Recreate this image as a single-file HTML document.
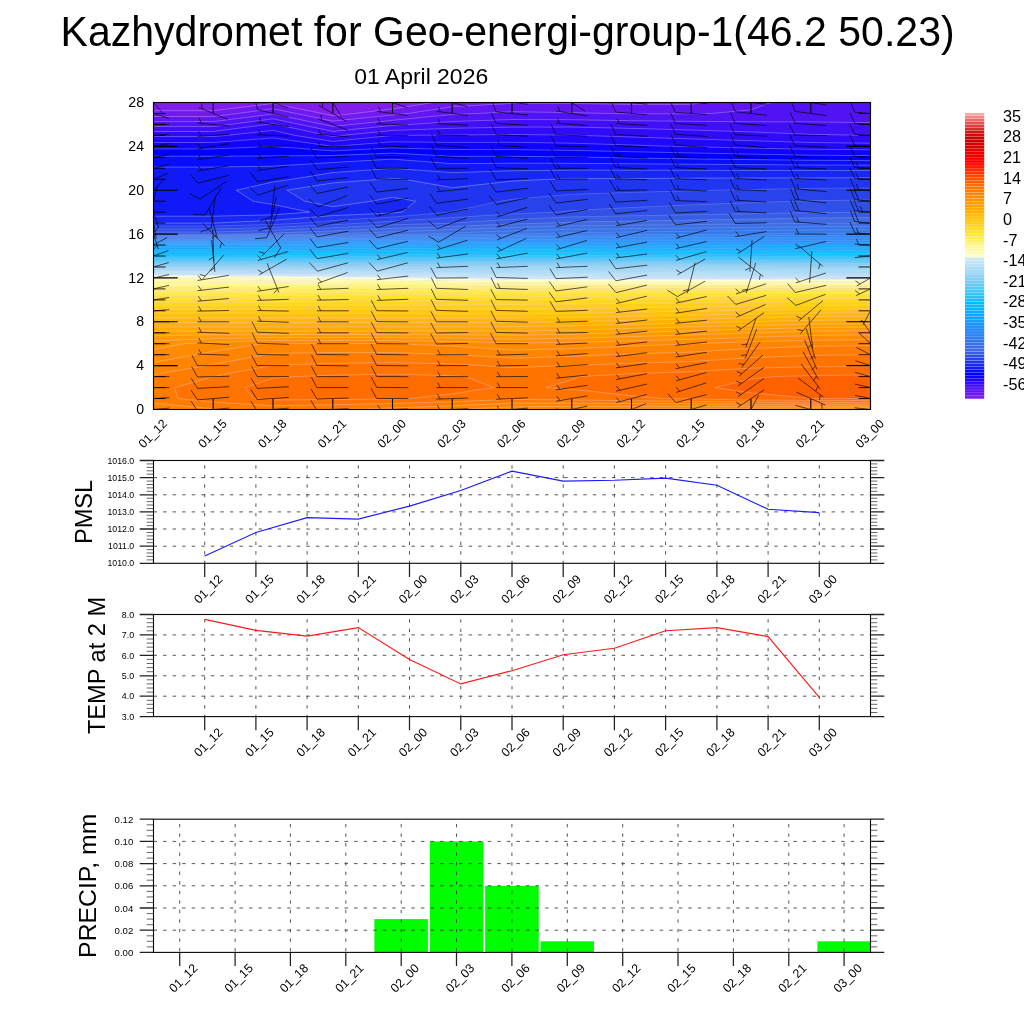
<!DOCTYPE html>
<html lang="en"><head><meta charset="utf-8"><title>Kazhydromet for Geo-energi-group-1(46.2 50.23)</title>
<style>html,body{margin:0;padding:0;background:#fff}body{width:1024px;height:1024px;overflow:hidden}svg{display:block}text{font-family:"Liberation Sans", sans-serif;fill:#000}</style></head><body>
<svg width="1024" height="1024" viewBox="0 0 1024 1024">
<rect width="1024" height="1024" fill="#fff"/>
<text transform="translate(507.6 45.6) scale(0.95 1)" font-size="43.2" text-anchor="middle">Kazhydromet for Geo-energi-group-1(46.2 50.23)</text>
<text x="421.2" y="84.4" font-size="22.95" text-anchor="middle">01 April 2026</text>
<defs><clipPath id="mc"><rect x="153.5" y="102.5" width="717" height="307"/></clipPath></defs>
<g clip-path="url(#mc)">
<rect x="152.5" y="101.5" width="719" height="309" fill="#811eee"/>
<g stroke-width="0.6" stroke-linejoin="round">
<path d="M322.4 113.5L332.8 115.7L354.5 113.5L392.5 108.9L433.1 102.5L392.5 102.5L332.8 102.5L273 102.5L213.2 102.5L153.5 102.5L153.5 110.7L213.2 110.7L273 103.5Z" fill="#811eee" stroke="#811eee" fill-rule="evenodd"/>
<path d="M153.5 113.5L153.5 116.5L213.2 116.5L237.2 113.5L273 108.8L296.4 113.5L332.8 121.1L392.5 115L408 113.5L452.2 106.7L512 103.4L571.8 103.4L631.5 104.4L691.2 104.4L703.2 102.5L691.2 102.5L631.5 102.5L571.8 102.5L512 102.5L452.2 102.5L433.1 102.5L392.5 108.9L354.5 113.5L332.8 115.7L322.4 113.5L273 103.5L213.2 110.7L153.5 110.7Z" fill="#711af0" stroke="#711af0" fill-rule="evenodd"/>
<path d="M323.4 124.4L332.8 126.4L352.7 124.4L392.5 120.3L452.2 114.5L476.2 113.5L512 111.7L571.8 112.6L611.6 113.5L631.5 113.8L691.2 113.8L711.2 113.5L751 109.8L770.9 102.5L751 102.5L703.2 102.5L691.2 104.4L631.5 104.4L571.8 103.4L512 103.4L452.2 106.7L408 113.5L392.5 115L332.8 121.1L296.4 113.5L273 108.8L237.2 113.5L213.2 116.5L153.5 116.5L153.5 121.6L213.2 121.6L273 114Z" fill="#6116f2" stroke="#6116f2" fill-rule="evenodd"/>
<path d="M153.5 124.4L153.5 126.6L213.2 126.6L230.1 124.4L273 118.8L299.9 124.4L332.8 131.4L392.5 125.4L411.7 124.4L452.2 121.5L512 119.5L571.8 119.7L631.5 120.7L691.2 121.3L751 121.8L810.8 121.9L870.5 122.6L870.5 113.5L870.5 102.5L810.8 102.5L770.9 102.5L751 109.8L711.2 113.5L691.2 113.8L631.5 113.8L611.6 113.5L571.8 112.6L512 111.7L476.2 113.5L452.2 114.5L392.5 120.3L352.7 124.4L332.8 126.4L323.4 124.4L273 114L213.2 121.6L153.5 121.6Z" fill="#5113f4" stroke="#5113f4" fill-rule="evenodd"/>
<path d="M326.5 135.4L332.8 136.4L342.7 135.4L392.5 130.4L452.2 128.3L512 127.1L571.8 127L631.5 128.4L691.2 130L751 131.9L810.8 134.3L870.5 135.4L870.5 135.4L870.5 135.4L870.5 124.4L870.5 122.6L810.8 121.9L751 121.8L691.2 121.3L631.5 120.7L571.8 119.7L512 119.5L452.2 121.5L411.7 124.4L392.5 125.4L332.8 131.4L299.9 124.4L273 118.8L230.1 124.4L213.2 126.6L153.5 126.6L153.5 131.5L213.2 131.5L267.4 124.4L273 123.7L276.5 124.4Z" fill="#400ff6" stroke="#400ff6" fill-rule="evenodd"/>
<path d="M153.5 135.4L153.5 136.6L213.2 136.6L226.5 135.4L273 130.4L295 135.4L332.8 141.4L392.5 135.4L392.5 135.4L452.2 135L512 134.5L571.8 135.1L580.1 135.4L631.5 137L691.2 138.9L751 140.7L810.8 142.5L870.5 143.2L870.5 135.4L870.5 135.4L810.8 134.3L751 131.9L691.2 130L631.5 128.4L571.8 127L512 127.1L452.2 128.3L392.5 130.4L342.7 135.4L332.8 136.4L326.5 135.4L276.5 124.4L273 123.7L267.4 124.4L213.2 131.5L153.5 131.5Z" fill="#300bf9" stroke="#300bf9" fill-rule="evenodd"/>
<path d="M332.8 146.4L332.8 146.4L332.8 146.4L392.5 141.8L452.2 142.4L512 142.3L571.8 143.2L631.5 145L675 146.4L691.2 146.7L751 148.1L810.8 149.3L870.5 149.8L870.5 146.4L870.5 143.2L810.8 142.5L751 140.7L691.2 138.9L631.5 137L580.1 135.4L571.8 135.1L512 134.5L452.2 135L392.5 135.4L392.5 135.4L332.8 141.4L295 135.4L273 130.4L226.5 135.4L213.2 136.6L153.5 136.6L153.5 142.5L213.2 142.5L273 137.9Z" fill="#2008fb" stroke="#2008fb" fill-rule="evenodd"/>
<path d="M153.5 146.4L153.5 148.9L213.2 148.9L273 146.4L332.8 150.9L392.5 147.9L452.2 149.5L512 149.6L571.8 150.4L631.5 151.7L691.2 152.9L751 154.1L810.8 155.2L870.5 155.6L870.5 149.8L810.8 149.3L751 148.1L691.2 146.7L675 146.4L631.5 145L571.8 143.2L512 142.3L452.2 142.4L392.5 141.8L332.8 146.4L332.8 146.4L332.8 146.4L273 137.9L213.2 142.5L153.5 142.5Z" fill="#1004fd" stroke="#1004fd" fill-rule="evenodd"/>
<path d="M593.5 157.3L631.5 158L691.2 158.9L751 159.6L810.8 160.3L870.5 160.5L870.5 157.3L870.5 155.6L810.8 155.2L751 154.1L691.2 152.9L631.5 151.7L571.8 150.4L512 149.6L452.2 149.5L392.5 147.9L332.8 150.9L273 146.4L213.2 148.9L153.5 148.9L153.5 156.2L213.2 156.2L273 155.9L332.8 155.5L392.5 153.1L452.2 156.3L512 156.3L571.8 156.9Z" fill="#0000ff" stroke="#0000ff" fill-rule="evenodd"/>
<path d="M153.5 157.3L153.5 167.1L213.2 167.1L273 166.2L332.8 162.5L392.5 159.1L452.2 163.7L512 163.2L571.8 163.3L631.5 163.8L691.2 164.2L751 164.6L810.7 165L870.5 165.1L870.5 160.5L810.8 160.3L751 159.6L691.2 158.9L631.5 158L593.5 157.3L571.8 156.9L512 156.3L452.2 156.3L392.5 153.1L332.8 155.5L273 155.9L213.2 156.2L153.5 156.2Z" fill="#080dfb" stroke="#080dfb" fill-rule="evenodd"/>
<path d="M153.5 212.1L153.5 216.2L213.2 216.2L273 214.8L309.5 212.1L273 204.5L253.1 201.2L236.3 190.2L273 182L291.8 179.3L332.8 172.6L392.5 168.3L452.2 172.6L512 170.8L571.8 170.1L631.5 170.2L691.2 170.3L751 170.4L810.8 170.4L870.5 170.5L870.5 168.3L870.5 165.1L810.8 165L751 164.6L691.2 164.2L631.5 163.8L571.8 163.3L512 163.2L452.2 163.7L392.5 159.1L332.8 162.5L273 166.2L213.2 167.1L153.5 167.1L153.5 168.3L153.5 179.3L153.5 190.2L153.5 201.2Z" fill="#101af8" stroke="#101af8" fill-rule="evenodd"/>
<path d="M153.5 223.1L153.5 223.1L213.2 223.1L213.2 223.1L273 220.3L332.8 215.6L392.5 213L402.3 212.1L415.7 201.2L392.5 197.3L371.5 201.2L332.8 206.7L304.9 201.2L286.8 190.2L332.8 182.9L382.5 179.2L392.5 178.3L404.4 179.3L452.2 187.7L512 181.1L548.1 179.3L571.8 178.7L631.5 178.5L691.2 178.2L751 178L810.8 177.9L870.5 177.8L870.5 170.5L810.8 170.4L751 170.4L691.2 170.3L631.5 170.2L571.8 170.1L512 170.8L452.2 172.6L392.5 168.3L332.8 172.6L291.8 179.3L273 182L236.3 190.2L253.1 201.2L273 204.5L309.5 212.1L273 214.8L213.2 216.2L153.5 216.2Z" fill="#1828f4" stroke="#1828f4" fill-rule="evenodd"/>
<path d="M153.5 223.1L153.5 226.1L213.2 226.1L273 224.5L302.9 223.1L332.8 220.6L392.5 217L451.1 212.1L452.2 211.5L500 201.2L512 199.3L571.8 194.3L631.5 192.4L691.2 190.8L717.5 190.2L751 189.5L810.8 188.4L870.5 188L870.5 179.3L870.5 177.8L810.8 177.9L751 178L691.2 178.2L631.5 178.5L571.8 178.7L548.1 179.3L512 181.1L452.2 187.7L404.4 179.3L392.5 178.3L382.5 179.2L332.8 182.9L286.8 190.2L304.9 201.2L332.8 206.7L371.5 201.2L392.5 197.3L415.7 201.2L402.3 212.1L392.5 213L332.8 215.6L273 220.3L213.2 223.1L213.2 223.1Z" fill="#2035f0" stroke="#2035f0" fill-rule="evenodd"/>
<path d="M153.5 226.1L153.5 229L213.2 229L273 227.4L332.8 224.7L362.6 223.1L392.5 221.1L452.2 217.6L512 213.9L557.5 212.1L571.8 210.5L631.5 207.5L691.2 204.9L751 202.7L795.6 201.2L810.8 200.7L870.5 200L870.5 190.2L870.5 188L810.8 188.4L751 189.5L717.5 190.2L691.2 190.8L631.5 192.4L571.8 194.3L512 199.3L500 201.2L452.2 211.5L451.1 212.1L392.5 217L332.8 220.6L302.9 223.1L273 224.5L213.2 226.1Z" fill="#2842ec" stroke="#2842ec" fill-rule="evenodd"/>
<path d="M153.5 229L153.5 232L213.2 232L273 230.2L332.8 227.8L392.5 224.8L452.2 223.2L453.7 223.1L512 219.2L571.8 216.9L631.5 215.8L691.2 214.8L751 213.7L810.8 212.6L870.5 212.1L870.5 212.1L870.5 201.2L870.5 200L810.8 200.7L795.6 201.2L751 202.7L691.2 204.9L631.5 207.5L571.8 210.5L557.5 212.1L512 213.9L452.2 217.6L392.5 221.1L362.6 223.1L332.8 224.7L273 227.4L213.2 229Z" fill="#3050e8" stroke="#3050e8" fill-rule="evenodd"/>
<path d="M153.5 234.1L153.5 234.4L213.2 234.4L240.6 234.1L273 233.1L332.8 230.9L392.5 228.3L452.2 226.5L512 224L547.1 223.1L571.8 222.1L631.5 221.1L691.2 220.1L751 219.1L810.8 218L870.5 217.6L870.5 212.1L810.8 212.6L751 213.7L691.2 214.8L631.5 215.8L571.8 216.9L512 219.2L453.7 223.1L452.2 223.2L392.5 224.8L332.8 227.8L273 230.2L213.2 232L153.5 232Z" fill="#385de5" stroke="#385de5" fill-rule="evenodd"/>
<path d="M153.5 234.4L153.5 235.4L213.2 235.4L273 234.8L331.9 234.1L332.8 234L392.5 231.8L452.2 229.7L512 227.4L571.8 225.9L631.5 225.2L691.2 224.6L751 224L810.8 223.4L870.5 223.1L870.5 223.1L870.5 217.6L810.8 218L751 219.1L691.2 220.1L631.5 221.1L571.8 222.1L547.1 223.1L512 224L452.2 226.5L392.5 228.3L332.8 230.9L273 233.1L240.6 234.1L213.2 234.4Z" fill="#406ae1" stroke="#406ae1" fill-rule="evenodd"/>
<path d="M153.5 235.4L153.5 236.4L213.2 236.4L273 235.8L332.8 235.2L392.5 234.5L423.2 234.1L452.2 233L512 230.8L571.8 229.3L631.5 228.6L691.2 228L751 227.3L810.8 226.7L870.5 226.4L870.5 223.1L810.8 223.4L751 224L691.2 224.6L631.5 225.2L571.8 225.9L512 227.4L452.2 229.7L392.5 231.8L332.8 234L331.9 234.1L273 234.8L213.2 235.4Z" fill="#3c6fe4" stroke="#3c6fe4" fill-rule="evenodd"/>
<path d="M153.5 236.4L153.5 237.4L213.2 237.4L273 236.9L332.8 236.3L392.5 235.7L452.2 234.9L512 234.1L515.8 234.1L571.8 232.7L631.5 232L691.2 231.3L751 230.7L810.8 230L870.5 229.8L870.5 226.4L810.8 226.7L751 227.3L691.2 228L631.5 228.6L571.8 229.3L512 230.8L452.2 233L423.2 234.1L392.5 234.5L332.7 235.2L273 235.8L213.2 236.4Z" fill="#3874e8" stroke="#3874e8" fill-rule="evenodd"/>
<path d="M153.5 237.4L153.5 238.4L213.2 238.4L273 238L332.8 237.5L392.5 236.9L452.2 236.2L512 235.5L571.8 234.9L631.5 234.7L691.2 234.4L746.8 234.1L751 234L810.8 233.3L870.5 233.1L870.5 229.8L810.8 230L751 230.7L691.2 231.3L631.5 232L571.8 232.7L515.8 234.1L512 234.1L452.2 234.9L392.5 235.7L332.8 236.3L273 236.9L213.2 237.4Z" fill="#3378eb" stroke="#3378eb" fill-rule="evenodd"/>
<path d="M153.5 238.4L153.5 239.5L213.2 239.5L273 239L332.8 238.6L392.5 238.1L452.2 237.5L512 236.9L571.8 236.4L631.5 236.2L691.2 236L751 235.7L810.8 235.4L870.5 235.3L870.5 234.1L870.5 233.1L810.8 233.3L751 234L746.8 234.1L691.2 234.4L631.5 234.7L571.8 234.9L512 235.5L452.2 236.2L392.5 236.9L332.8 237.5L273 238L213.2 238.4Z" fill="#2f7dee" stroke="#2f7dee" fill-rule="evenodd"/>
<path d="M153.5 239.5L153.5 240.5L213.2 240.5L273 240.1L332.8 239.7L392.5 239.3L452.2 238.8L512 238.2L571.8 237.8L631.5 237.7L691.2 237.5L751 237.4L810.8 237.2L870.5 237.1L870.5 235.3L810.8 235.4L751 235.7L691.2 236L631.5 236.2L571.8 236.4L512 236.9L452.2 237.5L392.5 238.1L332.8 238.6L273 239L213.2 239.5Z" fill="#2b82f2" stroke="#2b82f2" fill-rule="evenodd"/>
<path d="M153.5 240.5L153.5 241.5L213.2 241.5L273 241.2L332.8 240.9L392.5 240.5L452.2 240.1L512 239.6L571.8 239.3L631.5 239.2L691.2 239.1L751 239L810.8 238.9L870.5 238.8L870.5 237.1L810.8 237.2L751 237.4L691.2 237.5L631.5 237.7L571.8 237.8L512 238.2L452.2 238.8L392.5 239.3L332.8 239.7L273 240.1L213.2 240.5Z" fill="#2686f5" stroke="#2686f5" fill-rule="evenodd"/>
<path d="M153.5 241.5L153.5 242.5L213.2 242.5L273 242.3L332.8 242L392.5 241.7L452.2 241.4L512 241L571.8 240.8L631.5 240.7L691.2 240.7L751 240.7L810.8 240.6L870.5 240.6L870.5 238.8L810.8 238.9L751 239L691.2 239.1L631.5 239.2L571.8 239.3L512 239.6L452.2 240.1L392.5 240.5L332.8 240.9L273 241.2L213.2 241.5Z" fill="#228bf9" stroke="#228bf9" fill-rule="evenodd"/>
<path d="M153.5 242.5L153.5 243.5L213.2 243.5L273 243.3L332.8 243.1L392.5 242.9L452.2 242.6L512 242.4L571.8 242.2L631.5 242.2L691.2 242.3L751 242.3L810.8 242.4L870.5 242.4L870.5 240.6L810.8 240.6L751 240.7L691.2 240.7L631.5 240.7L571.8 240.8L512 241L452.2 241.4L392.5 241.7L332.8 242L273 242.3L213.2 242.5Z" fill="#1e90fc" stroke="#1e90fc" fill-rule="evenodd"/>
<path d="M153.5 243.5L153.5 244.5L213.2 244.5L273 244.4L332.8 244.3L392.5 244.1L452.3 243.9L512 243.7L571.8 243.7L631.5 243.8L691.2 243.9L751 244L810.8 244.1L870.5 244.2L870.5 242.4L810.8 242.4L751 242.3L691.2 242.3L631.5 242.2L571.8 242.2L512 242.4L452.2 242.6L392.5 242.9L332.8 243.1L273 243.3L213.2 243.5Z" fill="#1a96fc" stroke="#1a96fc" fill-rule="evenodd"/>
<path d="M153.5 245L153.5 245.9L213.2 245.9L273 245.7L332.8 245.5L392.5 245.4L452.2 245.2L512 245.1L571.8 245.1L631.5 245.3L691.2 245.4L751 245.6L810.8 245.8L870.5 245.8L870.5 245L870.5 244.2L810.8 244.1L751 244L691.2 243.9L631.5 243.8L571.8 243.7L512 243.7L452.2 243.9L392.5 244.1L332.8 244.3L273 244.4L213.2 244.5L153.5 244.5Z" fill="#169cfc" stroke="#169cfc" fill-rule="evenodd"/>
<path d="M153.5 245.9L153.5 247.6L213.2 247.6L273 247.3L332.8 247.1L392.5 246.9L452.2 246.8L512 246.6L571.8 246.6L631.5 246.8L691.2 246.9L751 247.1L810.8 247.3L870.5 247.4L870.5 245.8L810.8 245.8L751 245.6L691.2 245.4L631.5 245.3L571.8 245.1L512 245.1L452.2 245.2L392.5 245.4L332.8 245.5L273 245.7L213.3 245.9Z" fill="#13a1fd" stroke="#13a1fd" fill-rule="evenodd"/>
<path d="M153.5 247.6L153.5 249.3L213.2 249.3L273 249L332.8 248.7L392.5 248.5L452.2 248.3L512 248.1L571.8 248.1L631.5 248.2L691.2 248.4L751 248.7L810.8 248.9L870.5 249L870.5 247.4L810.8 247.3L751 247.1L691.2 246.9L631.5 246.8L571.8 246.6L512 246.6L452.2 246.8L392.5 246.9L332.8 247.1L273 247.3L213.2 247.6Z" fill="#0fa7fd" stroke="#0fa7fd" fill-rule="evenodd"/>
<path d="M153.5 249.3L153.5 250.9L213.2 250.9L273 250.6L332.8 250.3L392.5 250.1L452.2 249.8L512 249.5L571.8 249.5L631.5 249.7L691.2 250L751 250.2L810.8 250.4L870.5 250.5L870.5 249L810.8 248.9L751 248.7L691.2 248.4L631.5 248.2L571.8 248.1L512 248.1L452.2 248.3L392.5 248.5L332.8 248.7L273 249L213.2 249.3Z" fill="#0badfd" stroke="#0badfd" fill-rule="evenodd"/>
<path d="M153.5 250.9L153.5 252.6L213.2 252.6L273 252.3L332.8 251.9L392.5 251.6L452.2 251.3L512 251L571.8 251L631.5 251.2L691.2 251.5L751 251.7L810.8 252L870.5 252.1L870.5 250.5L810.8 250.4L751 250.2L691.2 250L631.5 249.7L571.8 249.5L512 249.5L452.2 249.8L392.5 250.1L332.8 250.3L273 250.6L213.2 250.9Z" fill="#08b2fe" stroke="#08b2fe" fill-rule="evenodd"/>
<path d="M153.5 252.6L153.5 254.3L213.2 254.3L273 253.9L332.8 253.5L392.5 253.2L452.2 252.8L512 252.5L571.8 252.5L631.5 252.7L691.2 253L751 253.3L810.8 253.5L870.5 253.7L870.5 252.1L810.8 252L751 251.7L691.2 251.5L631.5 251.2L571.8 251L512 251L452.2 251.3L392.5 251.6L332.8 251.9L273 252.3L213.2 252.6Z" fill="#04b8fe" stroke="#04b8fe" fill-rule="evenodd"/>
<path d="M153.5 256L153.5 256L213.2 256L213.2 256L273 255.6L332.8 255.1L392.5 254.7L452.2 254.3L512 254L571.8 253.9L631.5 254.2L691.2 254.5L751 254.8L810.8 255.1L870.5 255.2L870.5 253.7L810.8 253.5L751 253.3L691.2 253L631.5 252.7L571.8 252.5L512 252.5L452.2 252.8L392.5 253.2L332.8 253.5L273 253.9L213.2 254.3L153.5 254.3Z" fill="#00befe" stroke="#00befe" fill-rule="evenodd"/>
<path d="M153.5 256L153.5 257.3L213.2 257.3L273 257L332.8 256.6L392.5 256.3L432.3 256L452.3 255.9L512 255.5L571.8 255.4L631.5 255.7L688.3 256L691.2 256L751 256.3L810.8 256.6L870.5 256.7L870.5 256L870.5 255.2L810.8 255.1L751 254.8L691.2 254.5L631.5 254.2L571.8 253.9L512 254L452.2 254.3L392.5 254.7L332.8 255.1L273 255.6L213.2 256L213.2 256Z" fill="#11c0fc" stroke="#11c0fc" fill-rule="evenodd"/>
<path d="M153.5 257.3L153.5 258.6L213.2 258.6L273 258.3L332.8 258L392.5 257.6L452.2 257.3L512 256.9L571.8 256.9L631.5 257.2L691.2 257.4L751 257.7L810.8 258L870.5 258.1L870.5 256.7L810.8 256.6L751 256.3L691.2 256L688.3 256L631.5 255.7L571.8 255.4L512 255.5L452.2 255.9L432.3 256L392.5 256.3L332.8 256.6L273 257L213.2 257.3Z" fill="#22c2fb" stroke="#22c2fb" fill-rule="evenodd"/>
<path d="M153.5 258.6L153.5 260L213.2 260L273 259.7L332.8 259.4L392.5 259L452.2 258.7L512 258.4L571.8 258.3L631.5 258.6L691.2 258.8L751 259.1L810.8 259.3L870.5 259.4L870.5 258.1L810.8 258L751 257.7L691.2 257.4L631.5 257.2L571.8 256.9L512 256.9L452.3 257.3L392.5 257.6L332.8 258L273 258.3L213.2 258.6Z" fill="#33c4fa" stroke="#33c4fa" fill-rule="evenodd"/>
<path d="M153.5 260L153.5 261.3L213.2 261.3L273 261L332.8 260.7L392.5 260.4L452.2 260.1L512 259.8L571.8 259.8L631.5 260L691.2 260.3L751 260.5L810.8 260.7L870.5 260.8L870.5 259.4L810.7 259.3L751 259.1L691.2 258.8L631.5 258.6L571.8 258.3L512 258.4L452.2 258.7L392.5 259L332.8 259.4L273 259.7L213.2 260Z" fill="#44c6f8" stroke="#44c6f8" fill-rule="evenodd"/>
<path d="M153.5 261.3L153.5 262.6L213.2 262.6L273 262.4L332.8 262.1L392.5 261.8L452.2 261.6L512 261.3L571.8 261.2L631.5 261.5L691.2 261.7L751 261.9L810.8 262.1L870.5 262.2L870.5 260.8L810.8 260.7L751 260.5L691.2 260.3L631.5 260L571.8 259.8L512 259.8L452.2 260.1L392.5 260.4L332.8 260.7L273 261L213.2 261.3Z" fill="#54c8f6" stroke="#54c8f6" fill-rule="evenodd"/>
<path d="M153.5 262.6L153.5 263.9L213.2 263.9L273 263.7L332.8 263.5L392.5 263.2L452.2 263L512 262.7L571.8 262.7L631.5 262.9L691.2 263.1L751 263.3L810.8 263.5L870.5 263.5L870.5 262.2L810.8 262.1L751 261.9L691.2 261.7L631.5 261.5L571.8 261.2L512 261.3L452.2 261.6L392.5 261.8L332.8 262.1L273 262.4L213.2 262.6Z" fill="#65caf5" stroke="#65caf5" fill-rule="evenodd"/>
<path d="M153.5 263.9L153.5 265.2L213.2 265.2L273 265L332.8 264.8L392.5 264.6L452.2 264.4L512 264.2L571.8 264.1L631.5 264.3L691.2 264.5L751 264.7L810.8 264.8L870.5 264.9L870.5 263.5L810.8 263.5L751 263.3L691.2 263.1L631.5 262.9L571.8 262.7L512 262.7L452.2 263L392.5 263.2L332.8 263.5L273 263.7L213.2 263.9Z" fill="#76ccf4" stroke="#76ccf4" fill-rule="evenodd"/>
<path d="M153.5 265.2L153.5 266.6L213.2 266.6L273 266.4L332.8 266.2L392.5 266L452.2 265.8L512 265.6L571.8 265.6L631.5 265.8L691.2 265.9L751 266.1L810.8 266.2L870.5 266.3L870.5 264.9L810.8 264.8L751 264.7L691.2 264.5L631.5 264.3L571.8 264.1L512 264.2L452.2 264.4L392.5 264.6L332.8 264.8L273 265L213.2 265.2Z" fill="#87cef2" stroke="#87cef2" fill-rule="evenodd"/>
<path d="M153.5 267L153.5 267.9L213.2 267.9L273 267.8L332.8 267.7L392.5 267.5L452.2 267.3L512 267.1L571.8 267.1L631.5 267.3L691.2 267.5L751 267.7L810.8 267.9L870.5 268L870.5 267L870.5 266.3L810.8 266.2L751 266.1L691.2 265.9L631.5 265.8L571.8 265.6L512 265.6L452.2 265.8L392.5 266L332.8 266.2L273 266.4L213.2 266.6L153.5 266.6Z" fill="#91d2f3" stroke="#91d2f3" fill-rule="evenodd"/>
<path d="M153.5 267.9L153.5 269.3L213.2 269.3L273 269.3L332.8 269.3L392.5 269.3L452.2 269.3L512 269.3L571.8 269.3L631.5 269.5L691.2 269.7L751 269.9L810.8 270.1L870.5 270.1L870.5 268L810.8 267.9L751 267.7L691.2 267.5L631.5 267.3L571.8 267.1L512 267.1L452.2 267.3L392.5 267.5L332.8 267.7L273 267.8L213.2 267.9Z" fill="#9bd6f4" stroke="#9bd6f4" fill-rule="evenodd"/>
<path d="M153.5 269.3L153.5 270.6L213.2 270.6L273 270.7L332.8 270.9L392.5 271L452.2 271.2L512 271.4L571.8 271.6L631.5 271.8L691.2 271.9L751 272L810.8 272.2L870.5 272.2L870.5 270.1L810.8 270.1L751 269.9L691.2 269.7L631.5 269.5L571.8 269.3L512 269.3L452.2 269.3L392.5 269.3L332.8 269.3L273 269.3L213.2 269.3Z" fill="#a5daf5" stroke="#a5daf5" fill-rule="evenodd"/>
<path d="M153.5 270.6L153.5 272L213.2 272L273 272.2L332.8 272.4L392.5 272.7L452.2 273.1L512 273.6L571.8 273.9L631.5 274L691.2 274.1L751 274.2L810.8 274.3L870.5 274.3L870.5 272.2L810.8 272.2L751 272L691.2 271.9L631.5 271.8L571.8 271.6L512 271.4L452.2 271.2L392.5 271L332.8 270.9L273 270.7L213.2 270.6Z" fill="#afddf6" stroke="#afddf6" fill-rule="evenodd"/>
<path d="M153.5 272L153.5 273.3L213.2 273.3L273 273.6L332.8 274L392.5 274.5L452.2 275L512 275.7L571.8 276.1L631.5 276.2L691.2 276.3L751 276.4L810.8 276.4L870.5 276.5L870.5 274.3L810.8 274.3L751 274.2L691.2 274.1L631.5 274L571.8 273.9L512 273.6L452.2 273.1L392.5 272.7L332.8 272.4L273 272.2L213.2 272Z" fill="#b9e1f7" stroke="#b9e1f7" fill-rule="evenodd"/>
<path d="M520.8 277.9L571.8 278.2L631.5 278.3L691.2 278.3L751 278.3L810.8 278.3L870.5 278.4L870.5 277.9L870.5 276.5L810.8 276.4L751 276.4L691.2 276.3L631.5 276.2L571.8 276.1L512 275.7L452.2 275L392.5 274.5L332.8 274L273 273.6L213.2 273.3L153.5 273.3L153.5 274.7L213.2 274.7L273 275.1L332.8 275.6L392.5 276.2L452.2 276.9L512 277.9Z" fill="#c3e5f8" stroke="#c3e5f8" fill-rule="evenodd"/>
<path d="M390.2 277.9L392.5 278L452.2 278.7L512 279.4L571.8 279.6L631.5 279.7L691.2 279.7L751 279.7L810.8 279.7L870.5 279.8L870.5 278.4L810.8 278.3L751 278.3L691.2 278.3L631.5 278.3L571.8 278.2L520.8 277.9L512 277.9L452.2 276.9L392.5 276.2L332.8 275.6L273 275.1L213.2 274.7L153.5 274.7L153.5 276L213.2 276L273 276.6L332.8 277.2Z" fill="#cde9f9" stroke="#cde9f9" fill-rule="evenodd"/>
<path d="M263.8 277.9L273 278.1L332.8 279L392.5 279.8L452.2 280.4L512 280.9L571.8 281.1L631.5 281.1L691.2 281.1L751 281.1L810.8 281.2L870.5 281.2L870.5 279.8L810.8 279.7L751 279.7L691.2 279.7L631.5 279.7L571.8 279.6L512 279.4L452.2 278.7L392.5 278L390.2 277.9L332.8 277.2L273 276.6L213.2 276L153.5 276L153.5 277.4L213.3 277.4Z" fill="#ffffcd" stroke="#ffffcd" fill-rule="evenodd"/>
<path d="M153.5 277.9L153.5 279.6L213.2 279.6L273 280.4L332.8 281.1L392.5 281.6L452.2 282L512 282.3L571.8 282.5L631.5 282.5L691.2 282.5L751 282.5L810.8 282.6L870.5 282.6L870.5 281.2L810.8 281.2L751 281.1L691.2 281.1L631.5 281.1L571.8 281.1L512 280.9L452.3 280.4L392.5 279.8L332.8 279L273 278.1L263.8 277.9L213.2 277.4L153.5 277.4Z" fill="#fffcba" stroke="#fffcba" fill-rule="evenodd"/>
<path d="M153.5 279.6L153.5 282.3L213.2 282.3L273 282.8L332.8 283.1L392.5 283.4L452.2 283.6L512 283.8L571.8 283.9L631.5 283.9L691.2 283.9L751 284L810.8 284L870.5 284L870.5 282.6L810.8 282.6L751 282.5L691.2 282.5L631.5 282.5L571.8 282.5L512 282.3L452.2 282L392.5 281.6L332.8 281.1L273 280.4L213.2 279.6Z" fill="#fffaa6" stroke="#fffaa6" fill-rule="evenodd"/>
<path d="M153.5 282.3L153.5 285.1L213.2 285.1L273 285.1L332.8 285.2L392.5 285.2L452.2 285.3L512 285.3L571.8 285.3L631.5 285.3L691.2 285.4L751 285.4L810.8 285.4L870.5 285.4L870.5 284L810.8 284L751 284L691.2 283.9L631.5 283.9L571.8 283.9L512 283.8L452.2 283.6L392.5 283.4L332.8 283.1L273 282.8L213.2 282.3Z" fill="#fff893" stroke="#fff893" fill-rule="evenodd"/>
<path d="M153.5 285.1L153.5 287.8L213.2 287.8L273 287.5L332.8 287.3L392.5 287.1L452.2 286.9L512 286.8L571.8 286.8L631.5 286.8L691.2 286.8L751 286.8L810.8 286.8L870.5 286.8L870.5 285.4L810.8 285.4L751 285.4L691.2 285.4L631.5 285.3L571.8 285.3L512 285.3L452.2 285.3L392.5 285.2L332.8 285.2L273 285.1L213.2 285.1Z" fill="#fff580" stroke="#fff580" fill-rule="evenodd"/>
<path d="M153.5 288.9L153.5 290.6L213.2 290.6L273 290L332.8 289.5L392.5 288.9L392.5 288.9L452.2 288.6L512 288.3L571.8 288.2L631.5 288.2L691.2 288.2L751 288.2L810.8 288.2L870.5 288.2L870.5 286.8L810.8 286.8L751 286.8L691.2 286.8L631.5 286.8L571.8 286.8L512 286.8L452.2 286.9L392.5 287.1L332.8 287.3L273 287.5L213.2 287.8L153.5 287.8Z" fill="#fff06c" stroke="#fff06c" fill-rule="evenodd"/>
<path d="M153.5 290.6L153.5 293.4L213.2 293.4L273 292.9L332.8 292.4L392.5 291.8L452.2 291.3L512 290.7L571.8 290.4L631.5 290.4L691.2 290.3L751 290.3L810.8 290.3L870.5 290.3L870.5 288.9L870.5 288.2L810.8 288.2L751 288.2L691.2 288.2L631.5 288.2L571.8 288.2L512 288.3L452.2 288.6L392.5 288.9L392.5 288.9L332.8 289.5L273 290L213.2 290.6Z" fill="#ffec58" stroke="#ffec58" fill-rule="evenodd"/>
<path d="M153.5 293.4L153.5 296.2L213.2 296.2L273 295.7L332.8 295.3L392.5 294.8L452.2 294.3L512 293.7L571.8 293.4L631.5 293.3L691.2 293.2L751 293.1L810.8 293L870.5 293L870.5 290.3L810.8 290.3L751 290.3L691.2 290.3L631.5 290.4L571.8 290.4L512 290.7L452.2 291.3L392.5 291.8L332.8 292.4L273 292.9L213.2 293.4Z" fill="#ffe844" stroke="#ffe844" fill-rule="evenodd"/>
<path d="M153.5 296.2L153.5 299L213.2 299L273 298.6L332.8 298.1L392.5 297.7L452.2 297.2L512 296.8L571.8 296.4L631.5 296.3L691.2 296.1L751 295.9L810.8 295.8L870.5 295.7L870.5 293L810.8 293L751 293.1L691.2 293.2L631.5 293.3L571.8 293.4L512 293.7L452.2 294.3L392.5 294.8L332.8 295.3L273 295.7L213.2 296.2Z" fill="#ffe330" stroke="#ffe330" fill-rule="evenodd"/>
<path d="M153.5 299.9L153.5 302.3L213.2 302.3L273 301.9L332.8 301.4L392.5 300.9L452.2 300.4L500.8 299.9L512 299.8L571.8 299.4L631.5 299.2L691.2 299L751 298.8L810.8 298.6L870.5 298.5L870.5 295.7L810.8 295.8L751 295.9L691.2 296.1L631.5 296.3L571.8 296.4L512 296.8L452.2 297.2L392.5 297.7L332.8 298.1L273 298.6L213.2 299L153.5 299Z" fill="#ffdc29" stroke="#ffdc29" fill-rule="evenodd"/>
<path d="M153.5 302.3L153.5 305.7L213.2 305.7L273 305.5L332.8 305.3L392.5 305.1L452.2 304.8L512 304.5L571.8 304L631.5 303.3L691.2 302.8L751 302.3L810.8 301.8L870.5 301.7L870.5 299.9L870.5 298.5L810.8 298.6L751 298.8L691.2 299L631.5 299.2L571.8 299.4L512 299.8L500.8 299.9L452.2 300.4L392.5 300.9L332.8 301.4L273 301.9L213.2 302.3Z" fill="#ffd622" stroke="#ffd622" fill-rule="evenodd"/>
<path d="M153.5 305.7L153.5 309.1L213.2 309.1L273 309.1L332.8 309.2L392.5 309.2L452.2 309.2L512 309.3L571.8 308.8L631.5 307.8L691.2 307L751 306.2L810.8 305.6L870.5 305.3L870.5 301.7L810.8 301.8L751 302.3L691.2 302.8L631.5 303.3L571.8 304L512 304.5L452.2 304.8L392.5 305.1L332.8 305.3L273 305.5L213.2 305.7Z" fill="#ffcf1b" stroke="#ffcf1b" fill-rule="evenodd"/>
<path d="M153.5 310.8L153.5 313.2L213.2 313.2L273 313.3L332.8 313.4L392.5 313.6L452.2 313.7L512 313.8L571.8 313.3L631.5 312.2L691.2 311.2L712.7 310.8L751 310.2L810.8 309.3L870.5 309L870.5 305.3L810.8 305.6L751 306.2L691.2 307L631.5 307.8L571.8 308.8L512 309.3L452.2 309.2L392.5 309.2L332.8 309.2L273 309.1L213.2 309.1L153.5 309.1Z" fill="#ffc814" stroke="#ffc814" fill-rule="evenodd"/>
<path d="M153.5 313.2L153.5 318L213.2 318L273 318L332.8 318L392.5 318.1L452.2 318.1L512 318.1L571.8 317.5L631.5 316.3L691.2 315.1L751 314L810.8 313L870.5 312.6L870.5 310.8L870.5 309L810.8 309.3L751 310.2L712.7 310.8L691.2 311.2L631.5 312.2L571.8 313.3L512 313.8L452.2 313.7L392.5 313.6L332.8 313.4L273 313.3L213.2 313.2Z" fill="#ffc00f" stroke="#ffc00f" fill-rule="evenodd"/>
<path d="M153.5 321.8L153.5 322.6L213.2 322.6L273 322.6L332.8 322.6L392.5 322.5L452.2 322.5L512 322.4L565.4 321.8L571.8 321.7L631.5 320.3L691.2 319.1L751 317.9L810.8 316.7L870.5 316.3L870.5 312.6L810.8 313L751 314L691.2 315.1L631.5 316.3L571.8 317.5L512 318.1L452.2 318.1L392.5 318.1L332.8 318L273 318L213.2 318L153.5 318Z" fill="#ffb90a" stroke="#ffb90a" fill-rule="evenodd"/>
<path d="M153.5 322.6L153.5 326.8L213.2 326.8L273 326.8L332.8 326.8L392.5 326.8L452.2 326.8L512 326.7L571.8 325.9L631.5 324.4L691.2 323L745.9 321.8L751 321.7L810.8 320.4L870.5 320L870.5 316.3L810.8 316.7L751 317.9L691.2 319.1L631.5 320.3L571.8 321.7L565.4 321.8L512 322.4L452.2 322.5L392.5 322.5L332.8 322.6L273 322.6L213.2 322.6Z" fill="#ffb205" stroke="#ffb205" fill-rule="evenodd"/>
<path d="M153.5 326.8L153.5 331.1L213.2 331.1L273 331.1L332.8 331.1L392.5 331L452.2 331L512 331L571.8 330.1L631.5 328.4L691.2 326.9L751 325.4L810.8 324.1L870.5 323.6L870.5 321.8L870.5 320L810.8 320.4L751 321.7L745.9 321.8L691.2 323L631.5 324.4L571.8 325.9L512 326.7L452.2 326.8L392.5 326.8L332.8 326.8L273 326.8L213.2 326.8Z" fill="#ffaa00" stroke="#ffaa00" fill-rule="evenodd"/>
<path d="M153.5 332.8L153.5 335.8L213.2 334.9L273 334.5L332.8 334.5L392.5 334.6L452.2 334.7L512 335.1L571.8 334.3L621.7 332.8L631.5 332.5L691.2 330.7L751 329.1L810.8 327.7L870.5 327.1L870.5 323.6L810.8 324.1L751 325.4L691.2 326.9L631.5 328.4L571.8 330.1L512 331L452.2 331L392.5 331L332.8 331.1L273 331.1L213.2 331.1L153.5 331.1Z" fill="#ffa200" stroke="#ffa200" fill-rule="evenodd"/>
<path d="M153.5 335.8L153.5 340.9L213.2 338.6L273 337.4L332.8 337.5L392.5 337.6L452.2 338L512 339.1L571.8 338.3L631.5 336.6L691.2 334.9L751 332.9L754.8 332.8L810.8 331.2L870.5 330.6L870.5 327.1L810.8 327.7L751 329.1L691.2 330.7L631.5 332.5L621.7 332.8L571.8 334.3L512 335.1L452.2 334.7L392.5 334.6L332.8 334.5L273 334.5L213.2 334.9Z" fill="#ff9b00" stroke="#ff9b00" fill-rule="evenodd"/>
<path d="M576.7 409.5L631.5 409.5L691.2 409.5L751 409.5L810.8 409.5L870.5 409.5L870.5 407.9L810.8 408L751 408.4L691.2 408.5L631.5 409.1ZM153.5 343.7L153.5 349.5L185.1 343.7L213.2 342.3L273 340.4L332.8 340.4L392.5 340.6L452.3 341.4L512 343L571.8 342.4L631.5 340.8L691.2 339.4L751 337.3L810.8 335.5L870.5 334.7L870.5 332.8L870.5 330.6L810.8 331.2L754.8 332.8L751 332.9L691.2 334.9L631.5 336.6L571.8 338.3L512 339.1L452.2 338L392.5 337.6L332.8 337.5L273 337.4L213.2 338.6L153.5 340.9Z" fill="#ff9400" stroke="#ff9400" fill-rule="evenodd"/>
<path d="M458.5 409.5L512 409.5L571.8 409.5L576.7 409.5L631.5 409.1L691.2 408.5L751 408.4L810.8 408L870.5 407.9L870.5 406L810.8 406.1L751 406.3L691.2 406.1L631.5 406.3L571.8 406.3L512 406.8ZM153.5 354.7L153.5 362.4L195.7 354.7L213.2 351.5L261.6 343.7L273 343.3L332.8 343.3L392.5 343.6L396.9 343.7L452.2 346.1L512 350L571.8 348.7L631.5 346L691.2 343.9L694.6 343.7L751 341.7L810.8 340.3L870.5 339.7L870.5 334.7L810.8 335.5L751 337.3L691.2 339.4L631.5 340.8L571.8 342.4L512 343L452.2 341.4L392.5 340.6L332.8 340.4L273 340.4L213.2 342.3L185.1 343.7L153.5 349.5Z" fill="#ff8c00" stroke="#ff8c00" fill-rule="evenodd"/>
<path d="M153.5 409.5L213.2 409.5L226.3 409.5L213.2 408.8L153.5 403ZM343.2 409.5L392.5 409.5L452.2 409.5L458.5 409.5L512 406.8L571.8 406.3L631.5 406.3L691.2 406.1L751 406.3L810.8 406.1L870.5 406L870.5 404.2L810.8 404.2L751 404.2L691.2 403.7L631.5 403.6L571.8 403.1L512 403.1L452.2 405.8L392.5 408ZM153.5 365.6L153.5 374.8L206.2 365.6L213.2 364.4L265.4 354.7L273 353.4L332.8 352.5L392.5 352.6L452.2 354.4L457.4 354.7L512 358.2L571.8 356.4L609.7 354.7L631.5 353.8L691.2 352.1L751 348.5L810.8 346.3L870.5 345.5L870.5 343.7L870.5 339.7L810.8 340.3L751 341.7L694.6 343.7L691.2 343.9L631.5 346L571.8 348.7L512 350L452.2 346.1L396.9 343.7L392.5 343.6L332.8 343.3L273 343.3L261.6 343.7L213.2 351.5L195.7 354.7L153.5 362.4Z" fill="#ff8400" stroke="#ff8400" fill-rule="evenodd"/>
<path d="M153.5 398.5L153.5 403L213.2 408.8L226.3 409.5L273 409.5L332.8 409.5L343.2 409.5L392.5 408L452.2 405.8L512 403.1L571.8 403.1L631.5 403.6L691.2 403.7L751 404.2L810.8 404.2L870.5 404.2L870.5 402.4L810.8 402.3L751 402.1L691.2 401.3L631.5 400.8L571.8 399.9L512 399.4L452.2 401.7L392.5 403.5L332.8 404.7L273 405.7L213.2 402L178.1 398.5L174.6 387.6L213.2 376.6L213.2 376.6L271 365.6L273 365.3L332.8 363.3L392.5 362.6L452.2 363.9L482.7 365.6L512 367.7L566 365.6L571.8 365.5L631.5 363.2L691.2 361.6L751 357.7L810.8 355.4L870.5 354.7L870.5 354.7L870.5 345.5L810.7 346.3L751 348.5L691.2 352.1L631.5 353.8L609.7 354.7L571.8 356.4L512 358.2L457.4 354.7L452.2 354.4L392.5 352.6L332.8 352.5L273 353.4L265.4 354.7L213.2 364.4L206.2 365.6L153.5 374.8L153.5 376.6L153.5 387.6Z" fill="#ff7c00" stroke="#ff7c00" fill-rule="evenodd"/>
<path d="M178.1 398.5L213.2 402L273 405.7L332.8 404.7L392.5 403.5L452.2 401.7L512 399.4L571.8 399.9L631.5 400.8L691.2 401.3L751 402.1L810.8 402.3L870.5 402.4L870.5 400.5L810.8 400.4L751 400L691.2 398.9L663.1 398.5L631.5 395.8L571.8 389.2L545.8 387.6L571.8 379.8L579.4 376.6L631.5 373.6L691.2 371.7L751 368.2L810.8 366.8L870.5 366.5L870.5 365.6L870.5 354.7L810.7 355.4L751 357.7L691.2 361.6L631.5 363.2L571.8 365.5L566 365.6L512 367.7L482.7 365.6L452.2 363.9L392.5 362.6L332.8 363.3L273 365.3L271 365.6L213.2 376.6L213.2 376.6L174.6 387.6ZM273 399.9L254.1 398.5L244.9 387.6L273 378.2L295.4 376.6L332.7 375.2L392.5 374.2L452.2 375.7L465.5 376.6L493.9 387.6L452.2 393.9L410.4 398.5L392.5 399L332.8 399.6Z" fill="#ff7400" stroke="#ff7400" fill-rule="evenodd"/>
<path d="M254.1 398.5L273 399.9L332.8 399.6L392.5 399L410.4 398.5L452.2 393.9L493.9 387.6L465.5 376.6L452.2 375.7L392.5 374.2L332.8 375.2L295.4 376.6L273 378.2L244.9 387.6ZM663.1 398.5L691.2 398.9L751 400L810.8 400.4L870.5 400.5L870.5 398.7L815.3 398.5L810.8 398.4L751 392.8L715.2 387.6L751 379L774.5 376.6L810.8 375.5L870.5 374.9L870.5 366.5L810.8 366.8L751 368.2L691.2 371.7L631.5 373.6L579.4 376.6L571.8 379.8L545.8 387.6L571.8 389.2L631.5 395.8Z" fill="#ff6c00" stroke="#ff6c00" fill-rule="evenodd"/>
<path d="M815.3 398.5L870.5 398.7L870.5 398.5L870.5 387.6L870.5 376.6L870.5 374.9L810.8 375.5L774.5 376.6L751 379L715.2 387.6L751 392.8L810.8 398.4Z" fill="#ff6000" stroke="#ff6000" fill-rule="evenodd"/>
</g>
<g fill="none" stroke="#fff" stroke-width="0.55">
<path d="M433.1 102.5L392.5 108.9L354.5 113.5L332.8 115.7L322.4 113.5L273 103.5L213.2 110.7L153.5 110.7M703.2 102.5L691.2 104.4L631.5 104.4L571.8 103.4L512 103.4L452.2 106.7L408 113.5L392.5 115L332.8 121.1L296.4 113.5L273 108.8L237.2 113.5L213.2 116.5L153.5 116.5M770.9 102.5L751 109.8L711.2 113.5L691.2 113.8L631.5 113.8L611.6 113.5L571.8 112.6L512 111.7L476.2 113.5L452.2 114.5L392.5 120.3L352.7 124.4L332.8 126.4L323.4 124.4L273 114L213.2 121.6L153.5 121.6M870.5 122.6L810.8 121.9L751 121.8L691.2 121.3L631.5 120.7L571.8 119.7L512 119.5L452.2 121.5L411.7 124.4L392.5 125.4L332.8 131.4L299.9 124.4L273 118.8L230.1 124.4L213.2 126.6L153.5 126.6M870.5 135.4L870.5 135.4L810.8 134.3L751 131.9L691.2 130L631.5 128.4L571.8 127L512 127.1L452.2 128.3L392.5 130.4L342.7 135.4L332.8 136.4L326.5 135.4L276.5 124.4L273 123.7L267.4 124.4L213.2 131.5L153.5 131.5M870.5 143.2L810.8 142.5L751 140.7L691.2 138.9L631.5 137L580.1 135.4L571.8 135.1L512 134.5L452.2 135L392.5 135.4L392.5 135.4L332.8 141.4L295 135.4L273 130.4L226.5 135.4L213.2 136.6L153.5 136.6M870.5 149.8L810.8 149.3L751 148.1L691.2 146.7L675 146.4L631.5 145L571.8 143.2L512 142.3L452.2 142.4L392.5 141.8L332.8 146.4L332.8 146.4L332.8 146.4L273 137.9L213.2 142.5L153.5 142.5M870.5 155.6L810.8 155.2L751 154.1L691.2 152.9L631.5 151.7L571.8 150.4L512 149.6L452.2 149.5L392.5 147.9L332.8 150.9L273 146.4L213.2 148.9L153.5 148.9M870.5 160.5L810.8 160.3L751 159.6L691.2 158.9L631.5 158L593.5 157.3L571.8 156.9L512 156.3L452.2 156.3L392.5 153.1L332.8 155.5L273 155.9L213.2 156.2L153.5 156.2M870.5 165.1L810.8 165L751 164.6L691.2 164.2L631.5 163.8L571.8 163.3L512 163.2L452.2 163.7L392.5 159.1L332.8 162.5L273 166.2L213.2 167.1L153.5 167.1M870.5 170.5L810.8 170.4L751 170.4L691.2 170.3L631.5 170.2L571.8 170.1L512 170.8L452.2 172.6L392.5 168.3L332.8 172.6L291.8 179.3L273 182L236.3 190.2L253.1 201.2L273 204.5L309.5 212.1L273 214.8L213.2 216.2L153.5 216.2M870.5 177.8L810.8 177.9L751 178L691.2 178.2L631.5 178.5L571.8 178.7L548.1 179.3L512 181.1L452.2 187.7L404.4 179.3L392.5 178.3L382.5 179.2L332.8 182.9L286.8 190.2L304.9 201.2L332.8 206.7L371.5 201.2L392.5 197.3L415.7 201.2L402.3 212.1L392.5 213L332.8 215.6L273 220.3L213.2 223.1L213.2 223.1L153.5 223.1M870.5 279.8L810.8 279.7L751 279.7L691.2 279.7L631.5 279.7L571.8 279.6L512 279.4L452.2 278.7L392.5 278L390.2 277.9L332.8 277.2L273 276.6L213.2 276L153.5 276M870.5 281.2L810.8 281.2L751 281.1L691.2 281.1L631.5 281.1L571.8 281.1L512 280.9L452.3 280.4L392.5 279.8L332.8 279L273 278.1L263.8 277.9L213.2 277.4L153.5 277.4M870.5 282.6L810.8 282.6L751 282.5L691.2 282.5L631.5 282.5L571.8 282.5L512 282.3L452.2 282L392.5 281.6L332.8 281.1L273 280.4L213.2 279.6L153.5 279.6M870.5 284L810.8 284L751 284L691.2 283.9L631.5 283.9L571.8 283.9L512 283.8L452.2 283.6L392.5 283.4L332.8 283.1L273 282.8L213.2 282.3L153.5 282.3M870.5 285.4L810.8 285.4L751 285.4L691.2 285.4L631.5 285.3L571.8 285.3L512 285.3L452.2 285.3L392.5 285.2L332.8 285.2L273 285.1L213.2 285.1L153.5 285.1M870.5 286.8L810.8 286.8L751 286.8L691.2 286.8L631.5 286.8L571.8 286.8L512 286.8L452.2 286.9L392.5 287.1L332.8 287.3L273 287.5L213.2 287.8L153.5 287.8M870.5 288.2L810.8 288.2L751 288.2L691.2 288.2L631.5 288.2L571.8 288.2L512 288.3L452.2 288.6L392.5 288.9L392.5 288.9L332.8 289.5L273 290L213.2 290.6L153.5 290.6M870.5 290.3L810.8 290.3L751 290.3L691.2 290.3L631.5 290.4L571.8 290.4L512 290.7L452.2 291.3L392.5 291.8L332.8 292.4L273 292.9L213.2 293.4L153.5 293.4M870.5 293L810.8 293L751 293.1L691.2 293.2L631.5 293.3L571.8 293.4L512 293.7L452.2 294.3L392.5 294.8L332.8 295.3L273 295.7L213.2 296.2L153.5 296.2M870.5 295.7L810.8 295.8L751 295.9L691.2 296.1L631.5 296.3L571.8 296.4L512 296.8L452.2 297.2L392.5 297.7L332.8 298.1L273 298.6L213.2 299L153.5 299M870.5 298.5L810.8 298.6L751 298.8L691.2 299L631.5 299.2L571.8 299.4L512 299.8L500.8 299.9L452.2 300.4L392.5 300.9L332.8 301.4L273 301.9L213.2 302.3L153.5 302.3M870.5 301.7L810.8 301.8L751 302.3L691.2 302.8L631.5 303.3L571.8 304L512 304.5L452.2 304.8L392.5 305.1L332.8 305.3L273 305.5L213.2 305.7L153.5 305.7M870.5 305.3L810.8 305.6L751 306.2L691.2 307L631.5 307.8L571.8 308.8L512 309.3L452.2 309.2L392.5 309.2L332.8 309.2L273 309.1L213.2 309.1L153.5 309.1M870.5 309L810.8 309.3L751 310.2L712.7 310.8L691.2 311.2L631.5 312.2L571.8 313.3L512 313.8L452.2 313.7L392.5 313.6L332.8 313.4L273 313.3L213.2 313.2L153.5 313.2M870.5 312.6L810.8 313L751 314L691.2 315.1L631.5 316.3L571.8 317.5L512 318.1L452.2 318.1L392.5 318.1L332.8 318L273 318L213.2 318L153.5 318M870.5 316.3L810.8 316.7L751 317.9L691.2 319.1L631.5 320.3L571.8 321.7L565.4 321.8L512 322.4L452.2 322.5L392.5 322.5L332.8 322.6L273 322.6L213.2 322.6L153.5 322.6M870.5 320L810.8 320.4L751 321.7L745.9 321.8L691.2 323L631.5 324.4L571.8 325.9L512 326.7L452.2 326.8L392.5 326.8L332.8 326.8L273 326.8L213.2 326.8L153.5 326.8M870.5 323.6L810.8 324.1L751 325.4L691.2 326.9L631.5 328.4L571.8 330.1L512 331L452.2 331L392.5 331L332.8 331.1L273 331.1L213.2 331.1L153.5 331.1M870.5 327.1L810.8 327.7L751 329.1L691.2 330.7L631.5 332.5L621.7 332.8L571.8 334.3L512 335.1L452.2 334.7L392.5 334.6L332.8 334.5L273 334.5L213.2 334.9L153.5 335.8M870.5 330.6L810.8 331.2L754.8 332.8L751 332.9L691.2 334.9L631.5 336.6L571.8 338.3L512 339.1L452.2 338L392.5 337.6L332.8 337.5L273 337.4L213.2 338.6L153.5 340.9M576.7 409.5L631.5 409.1L691.2 408.5L751 408.4L810.8 408L870.5 407.9M870.5 334.7L810.8 335.5L751 337.3L691.2 339.4L631.5 340.8L571.8 342.4L512 343L452.2 341.4L392.5 340.6L332.8 340.4L273 340.4L213.2 342.3L185.1 343.7L153.5 349.5M458.5 409.5L512 406.8L571.8 406.3L631.5 406.3L691.2 406.1L751 406.3L810.8 406.1L870.5 406M870.5 339.7L810.8 340.3L751 341.7L694.6 343.7L691.2 343.9L631.5 346L571.8 348.7L512 350L452.2 346.1L396.9 343.7L392.5 343.6L332.8 343.3L273 343.3L261.6 343.7L213.2 351.5L195.7 354.7L153.5 362.4M153.5 403L213.2 408.8L226.3 409.5M343.2 409.5L392.5 408L452.2 405.8L512 403.1L571.8 403.1L631.5 403.6L691.2 403.7L751 404.2L810.8 404.2L870.5 404.2M870.5 345.5L810.7 346.3L751 348.5L691.2 352.1L631.5 353.8L609.7 354.7L571.8 356.4L512 358.2L457.4 354.7L452.2 354.4L392.5 352.6L332.8 352.5L273 353.4L265.4 354.7L213.2 364.4L206.2 365.6L153.5 374.8M870.5 354.7L810.7 355.4L751 357.7L691.2 361.6L631.5 363.2L571.8 365.5L566 365.6L512 367.7L482.7 365.6L452.2 363.9L392.5 362.6L332.8 363.3L273 365.3L271 365.6L213.2 376.6L213.2 376.6L174.6 387.6L178.1 398.5L213.2 402L273 405.7L332.8 404.7L392.5 403.5L452.2 401.7L512 399.4L571.8 399.9L631.5 400.8L691.2 401.3L751 402.1L810.8 402.3L870.5 402.4M254.1 398.5L273 399.9L332.8 399.6L392.5 399L410.4 398.5L452.2 393.9L493.9 387.6L465.5 376.6L452.2 375.7L392.5 374.2L332.8 375.2L295.4 376.6L273 378.2L244.9 387.6L254.1 398.5M870.5 366.5L810.8 366.8L751 368.2L691.2 371.7L631.5 373.6L579.4 376.6L571.8 379.8L545.8 387.6L571.8 389.2L631.5 395.8L663.1 398.5L691.2 398.9L751 400L810.8 400.4L870.5 400.5M870.5 374.9L810.8 375.5L774.5 376.6L751 379L715.2 387.6L751 392.8L810.8 398.4L815.3 398.5L870.5 398.7" stroke-opacity="0.52"/>
<path d="M870.5 188L810.8 188.4L751 189.5L717.5 190.2L691.2 190.8L631.5 192.4L571.8 194.3L512 199.3L500 201.2L452.2 211.5L451.1 212.1L392.5 217L332.8 220.6L302.9 223.1L273 224.5L213.2 226.1L153.5 226.1M870.5 200L810.8 200.7L795.6 201.2L751 202.7L691.2 204.9L631.5 207.5L571.8 210.5L557.5 212.1L512 213.9L452.2 217.6L392.5 221.1L362.6 223.1L332.8 224.7L273 227.4L213.2 229L153.5 229M870.5 212.1L810.8 212.6L751 213.7L691.2 214.8L631.5 215.8L571.8 216.9L512 219.2L453.7 223.1L452.2 223.2L392.5 224.8L332.8 227.8L273 230.2L213.2 232L153.5 232M870.5 217.6L810.8 218L751 219.1L691.2 220.1L631.5 221.1L571.8 222.1L547.1 223.1L512 224L452.2 226.5L392.5 228.3L332.8 230.9L273 233.1L240.6 234.1L213.2 234.4L153.5 234.4M870.5 223.1L810.8 223.4L751 224L691.2 224.6L631.5 225.2L571.8 225.9L512 227.4L452.2 229.7L392.5 231.8L332.8 234L331.9 234.1L273 234.8L213.2 235.4L153.5 235.4M870.5 226.4L810.8 226.7L751 227.3L691.2 228L631.5 228.6L571.8 229.3L512 230.8L452.2 233L423.2 234.1L392.5 234.5L332.7 235.2L273 235.8L213.2 236.4L153.5 236.4M870.5 229.8L810.8 230L751 230.7L691.2 231.3L631.5 232L571.8 232.7L515.8 234.1L512 234.1L452.2 234.9L392.5 235.7L332.8 236.3L273 236.9L213.2 237.4L153.5 237.4M870.5 233.1L810.8 233.3L751 234L746.8 234.1L691.2 234.4L631.5 234.7L571.8 234.9L512 235.5L452.2 236.2L392.5 236.9L332.8 237.5L273 238L213.2 238.4L153.5 238.4M870.5 235.3L810.8 235.4L751 235.7L691.2 236L631.5 236.2L571.8 236.4L512 236.9L452.2 237.5L392.5 238.1L332.8 238.6L273 239L213.2 239.5L153.5 239.5M870.5 237.1L810.8 237.2L751 237.4L691.2 237.5L631.5 237.7L571.8 237.8L512 238.2L452.2 238.8L392.5 239.3L332.8 239.7L273 240.1L213.2 240.5L153.5 240.5M870.5 238.8L810.8 238.9L751 239L691.2 239.1L631.5 239.2L571.8 239.3L512 239.6L452.2 240.1L392.5 240.5L332.8 240.9L273 241.2L213.2 241.5L153.5 241.5M870.5 240.6L810.8 240.6L751 240.7L691.2 240.7L631.5 240.7L571.8 240.8L512 241L452.2 241.4L392.5 241.7L332.8 242L273 242.3L213.2 242.5L153.5 242.5M870.5 242.4L810.8 242.4L751 242.3L691.2 242.3L631.5 242.2L571.8 242.2L512 242.4L452.2 242.6L392.5 242.9L332.8 243.1L273 243.3L213.2 243.5L153.5 243.5M870.5 244.2L810.8 244.1L751 244L691.2 243.9L631.5 243.8L571.8 243.7L512 243.7L452.2 243.9L392.5 244.1L332.8 244.3L273 244.4L213.2 244.5L153.5 244.5M870.5 245.8L810.8 245.8L751 245.6L691.2 245.4L631.5 245.3L571.8 245.1L512 245.1L452.2 245.2L392.5 245.4L332.8 245.5L273 245.7L213.3 245.9L153.5 245.9M870.5 247.4L810.8 247.3L751 247.1L691.2 246.9L631.5 246.8L571.8 246.6L512 246.6L452.2 246.8L392.5 246.9L332.8 247.1L273 247.3L213.2 247.6L153.5 247.6M870.5 249L810.8 248.9L751 248.7L691.2 248.4L631.5 248.2L571.8 248.1L512 248.1L452.2 248.3L392.5 248.5L332.8 248.7L273 249L213.2 249.3L153.5 249.3M870.5 250.5L810.8 250.4L751 250.2L691.2 250L631.5 249.7L571.8 249.5L512 249.5L452.2 249.8L392.5 250.1L332.8 250.3L273 250.6L213.2 250.9L153.5 250.9M870.5 252.1L810.8 252L751 251.7L691.2 251.5L631.5 251.2L571.8 251L512 251L452.2 251.3L392.5 251.6L332.8 251.9L273 252.3L213.2 252.6L153.5 252.6M870.5 253.7L810.8 253.5L751 253.3L691.2 253L631.5 252.7L571.8 252.5L512 252.5L452.2 252.8L392.5 253.2L332.8 253.5L273 253.9L213.2 254.3L153.5 254.3M870.5 255.2L810.8 255.1L751 254.8L691.2 254.5L631.5 254.2L571.8 253.9L512 254L452.2 254.3L392.5 254.7L332.8 255.1L273 255.6L213.2 256L213.2 256L153.5 256M870.5 256.7L810.8 256.6L751 256.3L691.2 256L688.3 256L631.5 255.7L571.8 255.4L512 255.5L452.2 255.9L432.3 256L392.5 256.3L332.8 256.6L273 257L213.2 257.3L153.5 257.3M870.5 258.1L810.8 258L751 257.7L691.2 257.4L631.5 257.2L571.8 256.9L512 256.9L452.3 257.3L392.5 257.6L332.8 258L273 258.3L213.2 258.6L153.5 258.6M870.5 259.4L810.7 259.3L751 259.1L691.2 258.8L631.5 258.6L571.8 258.3L512 258.4L452.2 258.7L392.5 259L332.8 259.4L273 259.7L213.2 260L153.5 260M870.5 260.8L810.8 260.7L751 260.5L691.2 260.3L631.5 260L571.8 259.8L512 259.8L452.2 260.1L392.5 260.4L332.8 260.7L273 261L213.2 261.3L153.5 261.3M870.5 262.2L810.8 262.1L751 261.9L691.2 261.7L631.5 261.5L571.8 261.2L512 261.3L452.2 261.6L392.5 261.8L332.8 262.1L273 262.4L213.2 262.6L153.5 262.6M870.5 263.5L810.8 263.5L751 263.3L691.2 263.1L631.5 262.9L571.8 262.7L512 262.7L452.2 263L392.5 263.2L332.8 263.5L273 263.7L213.2 263.9L153.5 263.9M870.5 264.9L810.8 264.8L751 264.7L691.2 264.5L631.5 264.3L571.8 264.1L512 264.2L452.2 264.4L392.5 264.6L332.8 264.8L273 265L213.2 265.2L153.5 265.2M870.5 266.3L810.8 266.2L751 266.1L691.2 265.9L631.5 265.8L571.8 265.6L512 265.6L452.2 265.8L392.5 266L332.8 266.2L273 266.4L213.2 266.6L153.5 266.6M870.5 268L810.8 267.9L751 267.7L691.2 267.5L631.5 267.3L571.8 267.1L512 267.1L452.2 267.3L392.5 267.5L332.8 267.7L273 267.8L213.2 267.9L153.5 267.9M870.5 270.1L810.8 270.1L751 269.9L691.2 269.7L631.5 269.5L571.8 269.3L512 269.3L452.2 269.3L392.5 269.3L332.8 269.3L273 269.3L213.2 269.3L153.5 269.3M870.5 272.2L810.8 272.2L751 272L691.2 271.9L631.5 271.8L571.8 271.6L512 271.4L452.2 271.2L392.5 271L332.8 270.9L273 270.7L213.2 270.6L153.5 270.6M870.5 274.3L810.8 274.3L751 274.2L691.2 274.1L631.5 274L571.8 273.9L512 273.6L452.2 273.1L392.5 272.7L332.8 272.4L273 272.2L213.2 272L153.5 272M870.5 276.5L810.8 276.4L751 276.4L691.2 276.3L631.5 276.2L571.8 276.1L512 275.7L452.2 275L392.5 274.5L332.8 274L273 273.6L213.2 273.3L153.5 273.3M870.5 278.4L810.8 278.3L751 278.3L691.2 278.3L631.5 278.3L571.8 278.2L520.8 277.9L512 277.9L452.2 276.9L392.5 276.2L332.8 275.6L273 275.1L213.2 274.7L153.5 274.7" stroke-opacity="0.3"/>
</g>
<path d="M137.7 410.9L169.3 408.1M137.7 410.9L131.3 401M137.7 399.4L169.3 397.7M137.7 399.4L131.6 389.3M137.7 387.6L169.3 387.6M137.7 387.6L132.1 377.2M137.7 376.6L169.3 376.6M137.7 376.6L132.1 366.2M137.7 365.6L169.3 365.6M137.7 365.6L132.1 355.2M137.7 354.7L169.3 354.7M141.6 354.7L138.9 349.7M137.7 343.7L169.3 343.7M141.6 343.7L138.9 338.8M137.7 332.8L169.3 332.8M141.6 332.8L138.9 327.8M137.7 321.8L169.3 321.8M141.6 321.8L138.9 316.8M137.7 311.9L169.3 309.7M141.6 311.7L138.6 306.9M137.8 302.3L169.2 297.5M141.7 301.7L138.3 297.2M138 292.4L169 285.4M141.8 291.5L138.2 287.2M138 281.2L169 274.6M141.8 280.4L138.2 276.1M138.3 271.3L168.7 262.6M142 270.3L138.1 266.2M138.6 261.4L168.4 250.6M142.3 260.1L138.1 256.3M139.6 252.7L167.4 237.4M143 250.8L138.4 247.8M158.4 249.1L148.6 219M157.2 245.4L153.3 249.5M156.3 238.7L150.7 207.5M155.6 234.9L151.2 238.3M158.7 227.1L148.3 197.2M158.7 227.1L150.6 235.8M149.4 216.5L157.6 185.9M149.4 216.5L137.9 219.1M142.5 201.6L164.5 178.8M142.5 201.6L131.1 198.4M138.8 185.2L168.2 173.3M138.8 185.2L129.8 177.6M138.1 172.1L168.9 164.5M141.9 171.2L138.2 167M137.9 160.1L169.1 154.6M141.7 159.4L138.3 155M137.9 149.1L169.1 143.6M141.7 148.4L138.3 144M137.7 136.5L169.3 134.3M141.6 136.2L138.6 131.5M137.7 124.7L169.3 124.2M141.6 124.6L138.8 119.7M138.3 108.8L168.7 118.1M142.1 110L141 104.5M143.1 90.5L163.9 114.5M145.7 93.5L147.7 88.3M197.5 410.9L229 408.1M197.5 410.9L191 401M197.5 399.9L229 397.2M197.5 399.9L191 390M197.4 388.4L229.1 386.7M197.4 388.4L191.3 378.3M197.4 376.9L229.1 376.3M197.4 376.9L191.7 366.6M197.4 365.6L229.1 365.6M197.4 365.6L191.9 355.2M197.4 354.1L229.1 355.2M201.3 354.3L198.9 349.2M197.4 342.9L229.1 344.5M201.3 343.1L198.9 338M197.4 332.2L229.1 333.3M201.3 332.3L198.9 327.3M197.4 321.8L229.1 321.8M201.3 321.8L198.7 316.8M197.4 311.1L229.1 310.5M201.3 311L198.6 306.1M197.5 301.2L229 298.5M201.3 300.9L198.3 296.2M197.5 290.7L229 287.1M201.4 290.3L198.2 285.7M197.6 280.5L228.9 275.3M201.5 279.9L198.1 275.4M202.8 278.9L223.7 255.1M205.3 275.9L199.9 274.6M214.9 271.8L211.6 240.2M214.5 267.9L209.9 271M213.8 260.9L212.7 229.2M213.7 257L208.8 259.8M224.4 245.4L202.1 222.8M221.6 242.6L219.9 247.9M217.4 238.4L209.1 207.8M216.3 234.6L212.2 238.5M211.3 227.9L215.2 196.4M211.3 227.9L200.3 232.1M205.3 214.9L221.2 187.5M205.3 214.9L193.5 214.5M200.1 199.1L226.4 181.4M200.1 199.1L189.7 193.5M197.9 183.1L228.6 175.4M197.9 183.1L190 174.3M197.6 170.9L228.9 165.7M201.5 170.2L198.1 165.8M197.6 159.7L228.9 155M201.4 159.1L198.1 154.6M197.6 149L228.9 143.7M201.5 148.4L198.1 143.9M197.4 136.3L229.1 134.5M201.3 136.1L198.4 131.3M197.5 123L229 125.9M201.4 123.3L199.2 118.2M198.6 107.5L227.9 119.4M202.2 109L201.6 103.4M257.2 410.9L288.8 408.1M257.2 410.9L250.8 401M257.2 399.6L288.8 397.4M257.2 399.6L250.9 389.6M257.2 388.4L288.8 386.7M257.2 388.4L251.1 378.3M257.1 376.6L288.9 376.6M257.1 376.6L251.6 366.2M257.1 365.6L288.9 365.6M257.1 365.6L251.6 355.2M257.2 354.4L288.8 355M257.2 354.4L251.8 343.9M257.2 343.2L288.8 344.3M257.2 343.2L252 332.6M257.2 332.2L288.8 333.3M257.2 332.2L252 321.6M257.2 321.2L288.8 322.3M261.1 321.4L258.6 316.3M257.2 310.5L288.8 311.1M261.1 310.6L258.5 305.6M257.2 300.4L288.8 299.3M261.1 300.3L258.3 295.4M257.3 291.3L288.7 286.5M261.2 290.7L257.8 286.2M278.9 292.6L267.1 263.2M277.5 289L273.9 293.3M259.2 274.8L286.8 259.1M262.6 272.9L257.9 269.9M257.8 260.5L288.2 251.5M261.5 259.4L257.6 255.4M261.8 256.2L284.2 233.8M264.6 253.5L259.2 251.8M280.7 247.9L265.3 220.2M280.7 247.9L274.3 257.8M266.8 237.7L279.2 208.5M266.8 237.7L255.1 238.7M269.7 227.6L276.3 196.6M269.7 227.6L258.4 230.9M271.1 216.9L274.9 185.4M271.1 216.9L260.1 221.1M258 195.2L288 185.2M258 195.2L249.4 187M257.4 181.8L288.6 176.7M257.4 181.8L250.2 172.4M257.3 170.5L288.7 166.1M261.2 169.9L257.9 165.4M257.2 158.5L288.8 156.1M261.1 158.2L258.1 153.5M257.2 147.3L288.8 145.4M261.1 147.1L258.2 142.3M257.2 134.8L288.8 136M261.1 134.9L258.6 129.9M257.3 122.2L288.7 126.6M261.2 122.8L259.3 117.5M257.6 109.7L288.4 117.2M257.6 109.7L254.7 98.2M258 97.3L288 107.7M261.7 98.6L260.8 93.1M316.9 410.3L348.6 408.7M316.9 410.3L310.8 400.2M316.9 399.1L348.6 398M316.9 399.1L311 388.9M316.9 387.6L348.6 387.6M316.9 387.6L311.4 377.2M316.9 376.6L348.6 376.6M316.9 376.6L311.4 366.2M316.9 365.4L348.6 365.9M316.9 365.4L311.5 354.9M316.9 354.5L348.6 354.8M316.9 354.5L311.5 344.1M316.9 343.7L348.6 343.7M320.8 343.7L318.2 338.8M316.9 332.8L348.6 332.8M320.8 332.8L318.2 327.8M316.9 321.8L348.6 321.8M320.8 321.8L318.2 316.8M316.9 310.8L348.6 310.8M320.8 310.8L318.2 305.9M316.9 300.2L348.6 299.5M320.8 300.1L318.1 295.2M316.9 289.5L348.6 288.3M320.8 289.4L318 284.5M317.9 283.3L347.6 272.5M321.5 282L317.4 278.3M317.5 271.2L348 262.8M317.5 271.2L309.4 262.6M317.1 258.7L348.4 253.3M317.1 258.7L309.9 249.3M317.1 247.7L348.4 242.4M317.1 247.7L309.9 238.4M317.2 236.9L348.3 231.2M317.2 236.9L309.8 227.6M317.2 226.2L348.3 220M317.2 226.2L309.7 217M317.6 216.7L347.9 207.6M317.6 216.7L309.3 208.3M318 206.9L347.5 195.5M318 206.9L309 199.1M317.2 193.5L348.3 186.9M317.2 193.5L309.7 184.5M317 181L348.5 177.5M317 181L310.3 171.2M317 169.6L348.5 167M317 169.6L310.6 159.7M316.9 158.2L348.6 156.4M316.9 158.2L310.8 148.1M316.9 146.5L348.6 146.2M320.8 146.5L318.1 141.6M317 134L348.5 136.8M320.8 134.4L318.7 129.2M317.9 118.8L347.6 130.1M321.6 120.2L320.9 114.6M319 105.5L346.5 121.4M322.4 107.5L322.6 101.9M324.4 89.1L341.1 115.9M326.4 92.4L329.2 87.5M376.7 410.1L408.3 408.9M380.6 409.9L377.8 405.1M376.6 398.5L408.4 398.5M376.6 398.5L371.1 388.1M376.7 387.4L408.3 387.7M376.7 387.4L371.2 377M376.7 376.5L408.3 376.7M376.7 376.5L371.2 366M376.7 365.5L408.3 365.8M376.7 365.5L371.2 355M376.7 354.5L408.3 354.8M376.7 354.5L371.2 344.1M376.7 343.6L408.3 343.9M376.7 343.6L371.2 333.1M376.7 332.6L408.3 332.9M376.7 332.6L371.2 322.1M376.7 321.6L408.3 321.9M376.7 321.6L371.2 311.2M376.7 310.7L408.3 311M376.7 310.7L371.2 300.2M376.7 300.4L408.3 299.3M380.6 300.3L377.8 295.4M376.7 289.5L408.3 288.3M380.6 289.4L377.7 284.5M376.8 279.7L408.2 276.1M380.6 279.3L377.5 274.7M377.2 271.2L407.8 262.8M377.2 271.2L369.1 262.6M377.1 259.6L407.9 252.4M380.9 258.7L377.2 254.5M377.1 248.8L407.9 241.3M377.1 248.8L369.3 240M377.1 237.8L407.9 230.3M377.1 237.8L369.3 229M377.3 227.7L407.7 218.5M377.3 227.7L369 219.4M377.2 216.3L407.8 208M377.2 216.3L369.1 207.7M381 215.3L377.1 211.2M376.9 204.1L408.1 198.2M376.9 204.1L369.5 194.9M376.8 192.1L408.2 188.3M376.8 192.1L370 182.5M376.7 179.1L408.3 179.4M376.7 179.1L371.2 168.6M376.6 168.3L408.4 168.3M376.6 168.3L371.1 157.9M376.6 157.3L408.4 157.3M376.6 157.3L371.1 146.9M376.7 145.6L408.3 147.1M380.6 145.8L378.2 140.8M376.7 135.1L408.3 135.7M380.6 135.2L378 130.2M376.7 123.8L408.3 125.1M380.6 123.9L378.1 118.9M376.8 111.4L408.2 115.6M380.7 111.9L378.7 106.6M377.5 97.4L407.5 107.6M381.2 98.7L380.3 93.2M436.4 410.3L468.1 408.7M440.3 410.1L437.4 405.3M436.4 399.1L468.1 398M440.3 399L437.5 394.1M436.4 387.6L468.1 387.6M440.3 387.6L437.7 382.6M436.4 376.6L468.1 376.6M440.3 376.6L437.7 371.7M436.4 365.6L468.1 365.6M440.3 365.6L437.7 360.7M436.4 354.7L468.1 354.7M440.3 354.7L437.7 349.7M436.4 344L468.1 343.4M436.4 344L430.7 333.7M436.4 333L468.1 332.5M436.4 333L430.7 322.7M436.4 321.8L468.1 321.8M436.4 321.8L430.9 311.4M436.4 310.3L468.1 311.4M436.4 310.3L431.2 299.7M436.4 299.4L468.1 300.3M436.4 299.4L431.2 288.8M436.4 288.3L468.1 289.5M436.4 288.3L431.3 277.6M436.4 278.1L468.1 277.8M436.4 278.1L430.8 267.7M436.4 267.6L468.1 266.3M440.3 267.4L437.5 262.6M436.5 258.1L468 253.9M440.4 257.6L437.2 253M437.1 249.7L467.4 240.3M440.8 248.6L436.9 244.7M438.6 242.2L465.9 226M438.6 242.2L428.5 236M437.4 228.7L467.1 217.5M437.4 228.7L428.6 220.9M436.7 215.2L467.8 209M436.7 215.2L429.2 206.1M436.5 203.2L468 199.1M436.5 203.2L429.7 193.6M436.5 191.7L468 188.7M440.4 191.4L437.3 186.7M436.4 179.9L468.1 178.6M440.3 179.7L437.5 174.9M436.4 168.3L468.1 168.3M436.4 168.3L430.9 157.9M436.4 156.2L468.1 158.5M436.4 156.2L431.7 145.4M436.4 145.1L468.1 147.6M436.4 145.1L431.7 134.3M436.4 135.1L468.1 135.7M440.3 135.2L437.8 130.2M436.4 123.5L468.1 125.3M440.3 123.7L438 118.7M436.5 111.4L468 115.5M440.4 111.9L438.4 106.7M436.9 98.4L467.6 106.6M440.7 99.4L439.4 94M496.2 410.9L527.8 408.1M500.1 410.5L497 405.8M496.2 399.3L527.8 397.8M500.1 399.1L497.2 394.3M496.1 387.6L527.9 387.6M500 387.6L497.4 382.6M496.2 376.7L527.8 376.5M500.1 376.7L497.4 371.8M496.2 365.9L527.8 365.4M500.1 365.9L497.3 361M496.2 355.1L527.8 354.2M500.1 355L497.3 350.1M496.1 343.7L527.9 343.7M496.1 343.7L490.6 333.3M496.2 332.4L527.8 333.1M496.2 332.4L490.9 321.8M496.2 321.3L527.8 322.2M496.2 321.3L490.9 310.8M496.2 310.4L527.8 311.3M496.2 310.4L490.9 299.8M496.2 299.6L527.8 300.1M496.2 299.6L490.8 289.1M496.2 288.3L527.8 289.5M496.2 288.3L491 277.6M500.1 288.4L497.6 283.4M496.2 277.5L527.8 278.4M496.2 277.5L490.9 266.9M496.2 267.6L527.8 266.3M500.1 267.4L497.2 262.6M496.4 258.9L527.6 253.1M500.3 258.2L496.8 253.8M497.6 251.7L526.4 238.4M501.2 250L496.7 246.7M497.2 239.8L526.8 228.4M500.8 238.4L496.6 234.7M496.7 227.2L527.3 219M500.5 226.2L496.6 222.1M496.9 216.9L527.1 207.4M500.6 215.7L496.6 211.8M496.5 204.5L527.5 197.9M496.5 204.5L488.9 195.4M496.3 192.1L527.7 188.3M496.3 192.1L489.5 182.5M496.2 179.9L527.8 178.6M496.2 179.9L490.2 169.7M496.2 167.8L527.8 168.7M496.2 167.8L490.9 157.3M496.2 156.4L527.8 158.2M496.2 156.4L491.2 145.7M496.2 145.4L527.8 147.3M500.1 145.7L497.7 140.6M496.2 134.7L527.8 136.1M496.2 134.7L491.1 124M496.2 123.5L527.8 125.3M496.2 123.5L491.2 112.8M496.2 111.9L527.8 115.1M496.2 111.9L491.8 100.9M496.2 100.8L527.8 104.2M500.1 101.3L498 96.1M556.3 412.9L587.2 406.1M560.1 412.1L556.4 407.8M556.1 401.2L587.4 395.9M560 400.5L556.6 396.1M556.1 389.8L587.4 385.3M559.9 389.3L556.6 384.7M556 378.2L587.5 375M559.9 377.8L556.7 373.2M555.9 366.8L587.6 364.5M559.8 366.5L556.8 361.8M555.9 355.8L587.6 353.6M559.8 355.5L556.9 350.7M555.9 344.4L587.6 343.1M559.8 344.2L557 339.4M555.9 333L587.6 332.5M559.8 333L557.1 328.1M555.9 322.3L587.6 321.2M559.8 322.2L557 317.4M555.9 311.4L587.6 310.3M555.9 311.4L550 301.2M556 301.8L587.5 297.9M556 301.8L549.2 292.2M556 291L587.5 286.8M556 291L549.2 281.4M555.9 278.6L587.6 277.2M555.9 278.6L549.9 268.5M555.9 267.6L587.6 266.3M559.8 267.4L557 262.6M556.2 258.9L587.3 253.1M560 258.2L556.5 253.8M556.6 249.6L586.9 240.5M560.3 248.5L556.4 244.5M556.3 237.6L587.2 230.5M560.1 236.8L556.4 232.5M556.3 226.7L587.2 219.5M560.1 225.8L556.4 221.6M556.1 214.8L587.4 209.5M556.1 214.8L548.9 205.5M556 203L587.5 199.4M556 203L549.3 193.2M555.9 190.9L587.6 189.5M555.9 190.9L549.9 180.8M555.9 179.4L587.6 179.1M555.9 179.4L550.3 169.1M559.8 179.4L557.1 174.5M555.9 168.3L587.6 168.3M555.9 168.3L550.4 157.9M559.8 168.3L557.2 163.3M555.9 157.3L587.6 157.3M555.9 157.3L550.4 146.9M555.9 146L587.6 146.7M555.9 146L550.6 135.5M555.9 134.7L587.6 136.1M555.9 134.7L550.9 124M556 123.1L587.5 125.7M559.8 123.4L557.6 118.3M556.1 111L587.4 115.9M559.9 111.6L558.1 106.3M558.5 93.9L585 111.1M561.7 96L562.2 90.4M616.8 415.4L646.2 403.6M620.4 414L616.1 410.4M616.2 402.6L646.8 394.4M620 401.6L616.1 397.5M616 391.1L647 384.1M619.8 390.2L616.2 386M615.9 379.6L647.1 373.6M619.8 378.9L616.2 374.5M615.8 367.9L647.2 363.4M619.7 367.4L616.4 362.9M615.8 356.7L647.2 352.7M619.6 356.2L616.4 351.6M615.8 345.5L647.2 341.9M619.6 345.1L616.4 340.5M615.7 334.4L647.3 331.1M619.6 334L616.5 329.4M615.7 323.5L647.3 320M619.6 323.1L616.5 318.5M615.8 312.6L647.2 309M619.6 312.2L616.4 307.6M616.1 303.6L646.9 296.2M619.9 302.6L616.2 298.5M616.1 292.6L646.9 285.1M616.1 292.6L608.3 283.8M615.9 280.8L647.1 275.1M615.9 280.8L608.6 271.5M615.8 268.8L647.2 265.2M615.8 268.8L609.1 259M615.8 258L647.2 254M619.6 257.5L616.4 252.9M615.9 248L647.1 242.1M619.8 247.3L616.3 242.9M616.1 237.7L646.9 230.4M619.9 236.8L616.2 232.6M615.9 225.9L647.1 220.4M619.7 225.2L616.3 220.8M615.7 213.8L647.3 210.5M615.7 213.8L609.2 204M615.7 202.1L647.3 200.3M615.7 202.1L609.5 192M615.7 190.5L647.3 189.9M615.7 190.5L609.9 180.2M619.6 190.4L616.8 185.5M615.7 178.8L647.3 179.7M615.7 178.8L610.4 168.2M619.6 178.9L617.1 173.9M615.7 167.6L647.3 169M615.7 167.6L610.6 156.9M619.6 167.7L617.2 162.7M615.7 156.6L647.3 158M615.7 156.6L610.6 145.9M619.6 156.8L617.2 151.7M615.7 145.6L647.3 147.1M615.7 145.6L610.6 135M615.7 134.5L647.3 136.3M615.7 134.5L610.7 123.8M615.7 123.5L647.3 125.4M619.6 123.7L617.3 118.6M615.7 112.1L647.3 114.8M615.7 112.1L611.1 101.3M615.8 100.7L647.2 104.3M619.6 101.1L617.6 95.9M676.1 414.1L706.4 404.9M679.8 413L675.9 409M675.9 402.6L706.6 394.5M675.9 402.6L667.9 393.9M676.2 392.4L706.3 382.8M679.9 391.2L675.9 387.3M676 380.8L706.5 372.5M679.7 379.7L675.9 375.7M675.7 368.7L706.8 362.6M679.5 367.9L676 363.6M675.6 357L706.9 352.3M679.4 356.4L676.1 351.9M675.5 345.4L707 342M679.4 345L676.2 340.4M675.5 334.4L707 331.1M679.4 334L676.2 329.3M675.5 323.3L707 320.2M679.4 323L676.3 318.3M675.6 313.2L706.9 308.4M679.4 312.6L676.1 308.1M675.8 303.2L706.7 296.5M679.6 302.4L676 298.1M677.4 296.6L705.1 281.2M677.4 296.6L667.5 290.2M687.4 293.3L695.1 262.5M688.4 289.5L682.9 290.9M677.5 274.8L705 259.1M680.9 272.9L676.1 269.9M676 260.4L706.5 251.6M679.8 259.3L675.9 255.3M675.8 248.6L706.7 241.5M679.6 247.7L675.9 243.5M675.9 238.2L706.6 230M679.7 237.2L675.9 233.1M675.5 224.9L707 221.3M675.5 224.9L668.8 215.2M675.4 212.9L707.1 211.4M675.4 212.9L669.4 202.7M675.4 200.6L707.1 201.7M675.4 200.6L670.2 190M679.3 200.8L676.9 195.7M675.4 189.6L707.1 190.9M675.4 189.6L670.3 178.9M679.3 189.7L676.9 184.7M675.4 178.7L707.1 179.8M675.4 178.7L670.2 168.1M679.3 178.8L676.9 173.8M675.4 167.6L707.1 169M675.4 167.6L670.4 156.9M679.3 167.7L676.9 162.7M675.4 156.6L707.1 158M675.4 156.6L670.4 145.9M679.3 156.8L676.9 151.7M675.5 145L707 147.7M675.5 145L670.8 134.1M675.4 134.3L707.1 136.5M675.4 134.3L670.6 123.5M675.4 123.5L707.1 125.3M675.4 123.5L670.5 112.8M675.4 112.6L707.1 114.4M675.4 112.6L670.5 101.8M675.4 101.4L707.1 103.6M679.3 101.7L677.1 96.6M743.6 423.5L758.4 395.5M745.4 420.1L739.8 420.1M737.8 407.3L764.2 389.8M741 405.1L736.1 402.5M738 396.7L764 378.5M741.2 394.4L736.2 391.9M738.1 385.8L763.9 367.4M741.3 383.5L736.3 381M739.1 376.1L762.9 355.1M742 373.6L736.8 371.6M741.8 367.6L760.2 341.8M744.1 364.4L738.5 363.7M745.2 358.5L756.8 329M746.6 354.8L741.1 355.5M745.8 347.7L756.2 317.8M747.1 344L741.6 344.9M738 330.9L764 312.7M741.2 328.6L736.2 326.1M736.5 317.2L765.5 304.5M740 315.6L735.7 312.1M735.8 304.4L766.2 295.3M735.8 304.4L727.5 296M736 294L766 283.8M739.7 292.7L735.6 288.9M746.2 293L755.8 262.8M747.4 289.3L741.9 290.3M763.5 276.7L738.5 257.2M760.4 274.3L759.4 279.8M749.9 271.8L752.1 240.2M750.2 267.9L745.1 270.2M737.7 253.7L764.3 236.4M741 251.5L736.1 248.8M735.3 236.6L766.7 231.6M739.2 235.9L735.8 231.5M735.2 223.5L766.8 222.7M735.2 223.5L729.3 213.3M735.2 211.4L766.8 212.9M735.2 211.4L730.1 200.8M739.1 211.6L736.7 206.5M735.2 200.2L766.8 202.1M735.2 200.2L730.3 189.5M739.1 200.5L736.7 195.4M735.2 189.6L766.8 190.9M735.2 189.6L730 178.9M739.1 189.7L736.6 184.7M735.2 178.5L766.8 180M735.2 178.5L730.1 167.9M739.1 178.7L736.7 173.6M735.2 167.6L766.8 169M735.2 167.6L730.1 156.9M735.2 156.4L766.8 158.2M735.2 156.4L730.2 145.7M739.1 156.6L736.7 151.5M735.2 145L766.8 147.7M735.2 145L730.6 134.1M735.2 134.7L766.8 136.1M735.2 134.7L730.1 124M735.2 123.4L766.8 125.5M735.2 123.4L730.4 112.6M735.3 111.7L766.7 115.3M735.3 111.7L730.9 100.7M735.3 100.7L766.7 104.3M739.1 101.1L737.1 95.9M826.1 413.6L795.4 405.4M822.3 412.6L823.6 418M825.2 405L796.3 392.1M821.7 403.4L822.1 409M823.4 397.1L798.1 378M820.3 394.8L819.4 400.3M820.4 389.2L801.1 364M818 386.1L815.7 391.2M818.4 379.5L803.1 351.8M816.5 376.1L813.5 380.8M816.9 369.3L804.6 340.1M815.4 365.7L811.9 370M815.3 358.9L806.2 328.5M814.2 355.2L810.2 359.1M812.7 348.5L808.8 317M812.2 344.6L807.6 347.8M800.4 333.7L821.1 309.8M802.9 330.8L797.5 329.5M798.6 320.9L822.9 300.7M801.6 318.5L796.4 316.3M795.9 305.4L825.6 294.3M795.9 305.4L787.1 297.6M795.3 292.5L826.2 285.3M795.3 292.5L787.6 283.6M795.7 282.9L825.8 273M799.4 281.7L795.4 277.8M809.6 282.8L811.9 251.2M822.8 266.3L798.7 245.7M819.9 263.7L818.6 269.2M795.3 248.7L826.2 241.4M799.1 247.8L795.4 243.6M794.9 233.9L826.6 234.2M798.8 233.9L796.2 229M794.9 221.9L826.6 224.3M794.9 221.9L790.2 211.1M798.8 222.2L796.6 217.1M795 210.6L826.5 213.7M795 210.6L790.5 199.7M798.9 211L794.3 200.1M795 199.5L826.5 202.9M795 199.5L790.6 188.5M798.9 199.9L794.5 189M795 188.7L826.5 191.7M795 188.7L790.5 177.8M798.9 189.1L796.7 183.9M794.9 178.5L826.6 180M794.9 178.5L789.9 167.9M798.8 178.7L796.4 173.6M794.9 167.6L826.6 169M794.9 167.6L789.9 156.9M798.8 167.7L796.4 162.7M794.9 156.6L826.6 158M794.9 156.6L789.9 145.9M794.9 145.6L826.6 147.1M794.9 145.6L789.9 135M794.9 135.1L826.6 135.7M794.9 135.1L789.5 124.6M794.9 123.2L826.6 125.7M794.9 123.2L790.2 112.4M795 111.4L826.5 115.5M795 111.4L790.9 100.4M795.1 100L826.4 105M798.9 100.7L797.1 95.4M854.7 407.8L886.3 411.2M855 395.3L886 401.8M855 384.1L886 391M855.2 372.4L885.8 380.8M855.4 360.7L885.6 370.5M856.4 347.5L884.6 361.9M858.9 332.9L882.1 354.5M861.2 319.9L879.8 345.6M863.1 324.8L877.9 296.8M864.9 321.4L859.3 321.4M856.1 295.6L884.9 282.2M859.7 293.9L855.2 290.6M856.8 285.9L884.2 270M860.2 283.9L855.4 280.9M854.7 257.6L886.3 254.4M854.7 244L886.3 246.1M858.6 244.2L856.3 239.1M854.7 232.8L886.3 235.3M854.7 232.8L850 222M858.6 233.1L856.4 228M854.7 221.5L886.3 224.8M854.7 221.5L850.3 210.5M858.6 221.9L854.2 210.9M854.7 210.8L886.3 213.5M854.7 210.8L850.1 199.9M858.6 211.1L854 200.2M862.5 211.4L860.3 206.3M854.7 199.6L886.3 202.8M854.7 199.6L850.3 188.7M858.6 200L854.2 189M854.7 188.8L886.3 191.6M854.7 188.8L850.1 178M858.6 189.2L856.4 184M854.7 178.4L886.3 180.1M854.7 178.4L849.7 167.7M858.6 178.6L856.2 173.5M854.7 167.5L886.3 169.1M854.7 167.5L849.7 156.8M858.6 167.7L856.2 162.6M854.7 156.5L886.3 158.2M854.7 156.5L849.7 145.8M854.7 145.5L886.3 147.2M854.7 145.5L849.7 134.8M854.7 134.4L886.3 136.4M854.7 134.4L849.8 123.7M854.7 123.4L886.3 125.5M854.7 123.4L849.9 112.6M854.7 112.2L886.3 114.7M854.7 112.2L850 101.4" fill="none" stroke="#000" stroke-width="0.7" stroke-opacity="0.92"/>
</g>
<path d="M153.5 398.5h12M870.5 398.5h-12M153.5 387.6h12M870.5 387.6h-12M153.5 376.6h12M870.5 376.6h-12M153.5 354.7h12M870.5 354.7h-12M153.5 343.7h12M870.5 343.7h-12M153.5 332.8h12M870.5 332.8h-12M153.5 310.8h12M870.5 310.8h-12M153.5 299.9h12M870.5 299.9h-12M153.5 288.9h12M870.5 288.9h-12M153.5 267h12M870.5 267h-12M153.5 256h12M870.5 256h-12M153.5 245h12M870.5 245h-12M153.5 223.1h12M870.5 223.1h-12M153.5 212.1h12M870.5 212.1h-12M153.5 201.2h12M870.5 201.2h-12M153.5 179.3h12M870.5 179.3h-12M153.5 168.3h12M870.5 168.3h-12M153.5 157.3h12M870.5 157.3h-12M153.5 135.4h12M870.5 135.4h-12M153.5 124.4h12M870.5 124.4h-12M153.5 113.5h12M870.5 113.5h-12" fill="none" stroke="#000" stroke-width="0.85"/>
<path d="M153.5 409.5h24.2M870.5 409.5h-24.2M153.5 365.6h24.2M870.5 365.6h-24.2M153.5 321.8h24.2M870.5 321.8h-24.2M153.5 277.9h24.2M870.5 277.9h-24.2M153.5 234.1h24.2M870.5 234.1h-24.2M153.5 190.2h24.2M870.5 190.2h-24.2M153.5 146.4h24.2M870.5 146.4h-24.2M153.5 102.5h24.2M870.5 102.5h-24.2M153.5 102.5v10.6M153.5 409.5v-10.6M213.2 102.5v10.6M213.2 409.5v-10.6M273 102.5v10.6M273 409.5v-10.6M332.8 102.5v10.6M332.8 409.5v-10.6M392.5 102.5v10.6M392.5 409.5v-10.6M452.2 102.5v10.6M452.2 409.5v-10.6M512 102.5v10.6M512 409.5v-10.6M571.8 102.5v10.6M571.8 409.5v-10.6M631.5 102.5v10.6M631.5 409.5v-10.6M691.2 102.5v10.6M691.2 409.5v-10.6M751 102.5v10.6M751 409.5v-10.6M810.8 102.5v10.6M810.8 409.5v-10.6M870.5 102.5v10.6M870.5 409.5v-10.6" fill="none" stroke="#000" stroke-width="1.1"/>
<rect x="153.5" y="102.5" width="717" height="307" fill="none" stroke="#000" stroke-width="1.1"/>
<text x="144" y="414.1" font-size="14.1" text-anchor="end">0</text>
<text x="144" y="370.2" font-size="14.1" text-anchor="end">4</text>
<text x="144" y="326.4" font-size="14.1" text-anchor="end">8</text>
<text x="144" y="282.5" font-size="14.1" text-anchor="end">12</text>
<text x="144" y="238.7" font-size="14.1" text-anchor="end">16</text>
<text x="144" y="194.8" font-size="14.1" text-anchor="end">20</text>
<text x="144" y="151" font-size="14.1" text-anchor="end">24</text>
<text x="144" y="107.1" font-size="14.1" text-anchor="end">28</text>
<text transform="translate(153.1 434) rotate(-45)" font-size="12.4" text-anchor="middle" y="3.7">01_12</text>
<text transform="translate(212.8 434) rotate(-45)" font-size="12.4" text-anchor="middle" y="3.7">01_15</text>
<text transform="translate(272.6 434) rotate(-45)" font-size="12.4" text-anchor="middle" y="3.7">01_18</text>
<text transform="translate(332.4 434) rotate(-45)" font-size="12.4" text-anchor="middle" y="3.7">01_21</text>
<text transform="translate(392.1 434) rotate(-45)" font-size="12.4" text-anchor="middle" y="3.7">02_00</text>
<text transform="translate(451.9 434) rotate(-45)" font-size="12.4" text-anchor="middle" y="3.7">02_03</text>
<text transform="translate(511.6 434) rotate(-45)" font-size="12.4" text-anchor="middle" y="3.7">02_06</text>
<text transform="translate(571.4 434) rotate(-45)" font-size="12.4" text-anchor="middle" y="3.7">02_09</text>
<text transform="translate(631.1 434) rotate(-45)" font-size="12.4" text-anchor="middle" y="3.7">02_12</text>
<text transform="translate(690.9 434) rotate(-45)" font-size="12.4" text-anchor="middle" y="3.7">02_15</text>
<text transform="translate(750.6 434) rotate(-45)" font-size="12.4" text-anchor="middle" y="3.7">02_18</text>
<text transform="translate(810.4 434) rotate(-45)" font-size="12.4" text-anchor="middle" y="3.7">02_21</text>
<text transform="translate(870.1 434) rotate(-45)" font-size="12.4" text-anchor="middle" y="3.7">03_00</text>
<g>
<rect x="965" y="395.95" width="19.2" height="2.77" fill="#811eee"/>
<rect x="965" y="393.00" width="19.2" height="2.77" fill="#711af0"/>
<rect x="965" y="390.06" width="19.2" height="2.77" fill="#6116f2"/>
<rect x="965" y="387.11" width="19.2" height="2.77" fill="#5113f4"/>
<rect x="965" y="384.16" width="19.2" height="2.77" fill="#400ff6"/>
<rect x="965" y="381.21" width="19.2" height="2.77" fill="#300bf9"/>
<rect x="965" y="378.26" width="19.2" height="2.77" fill="#2008fb"/>
<rect x="965" y="375.32" width="19.2" height="2.77" fill="#1004fd"/>
<rect x="965" y="372.37" width="19.2" height="2.77" fill="#0000ff"/>
<rect x="965" y="369.42" width="19.2" height="2.77" fill="#080dfb"/>
<rect x="965" y="366.47" width="19.2" height="2.77" fill="#101af8"/>
<rect x="965" y="363.52" width="19.2" height="2.77" fill="#1828f4"/>
<rect x="965" y="360.58" width="19.2" height="2.77" fill="#2035f0"/>
<rect x="965" y="357.63" width="19.2" height="2.77" fill="#2842ec"/>
<rect x="965" y="354.68" width="19.2" height="2.77" fill="#3050e8"/>
<rect x="965" y="351.73" width="19.2" height="2.77" fill="#385de5"/>
<rect x="965" y="348.79" width="19.2" height="2.77" fill="#406ae1"/>
<rect x="965" y="345.84" width="19.2" height="2.77" fill="#3c6fe4"/>
<rect x="965" y="342.89" width="19.2" height="2.77" fill="#3874e8"/>
<rect x="965" y="339.94" width="19.2" height="2.77" fill="#3378eb"/>
<rect x="965" y="336.99" width="19.2" height="2.77" fill="#2f7dee"/>
<rect x="965" y="334.05" width="19.2" height="2.77" fill="#2b82f2"/>
<rect x="965" y="331.10" width="19.2" height="2.77" fill="#2686f5"/>
<rect x="965" y="328.15" width="19.2" height="2.77" fill="#228bf9"/>
<rect x="965" y="325.20" width="19.2" height="2.77" fill="#1e90fc"/>
<rect x="965" y="322.25" width="19.2" height="2.77" fill="#1a96fc"/>
<rect x="965" y="319.31" width="19.2" height="2.77" fill="#169cfc"/>
<rect x="965" y="316.36" width="19.2" height="2.77" fill="#13a1fd"/>
<rect x="965" y="313.41" width="19.2" height="2.77" fill="#0fa7fd"/>
<rect x="965" y="310.46" width="19.2" height="2.77" fill="#0badfd"/>
<rect x="965" y="307.51" width="19.2" height="2.77" fill="#08b2fe"/>
<rect x="965" y="304.57" width="19.2" height="2.77" fill="#04b8fe"/>
<rect x="965" y="301.62" width="19.2" height="2.77" fill="#00befe"/>
<rect x="965" y="298.67" width="19.2" height="2.77" fill="#11c0fc"/>
<rect x="965" y="295.72" width="19.2" height="2.77" fill="#22c2fb"/>
<rect x="965" y="292.77" width="19.2" height="2.77" fill="#33c4fa"/>
<rect x="965" y="289.83" width="19.2" height="2.77" fill="#44c6f8"/>
<rect x="965" y="286.88" width="19.2" height="2.77" fill="#54c8f6"/>
<rect x="965" y="283.93" width="19.2" height="2.77" fill="#65caf5"/>
<rect x="965" y="280.98" width="19.2" height="2.77" fill="#76ccf4"/>
<rect x="965" y="278.03" width="19.2" height="2.77" fill="#87cef2"/>
<rect x="965" y="275.09" width="19.2" height="2.77" fill="#91d2f3"/>
<rect x="965" y="272.14" width="19.2" height="2.77" fill="#9bd6f4"/>
<rect x="965" y="269.19" width="19.2" height="2.77" fill="#a5daf5"/>
<rect x="965" y="266.24" width="19.2" height="2.77" fill="#afddf6"/>
<rect x="965" y="263.29" width="19.2" height="2.77" fill="#b9e1f7"/>
<rect x="965" y="260.35" width="19.2" height="2.77" fill="#c3e5f8"/>
<rect x="965" y="257.40" width="19.2" height="2.77" fill="#cde9f9"/>
<rect x="965" y="254.45" width="19.2" height="2.77" fill="#ffffcd"/>
<rect x="965" y="251.50" width="19.2" height="2.77" fill="#fffcba"/>
<rect x="965" y="248.56" width="19.2" height="2.77" fill="#fffaa6"/>
<rect x="965" y="245.61" width="19.2" height="2.77" fill="#fff893"/>
<rect x="965" y="242.66" width="19.2" height="2.77" fill="#fff580"/>
<rect x="965" y="239.71" width="19.2" height="2.77" fill="#fff06c"/>
<rect x="965" y="236.76" width="19.2" height="2.77" fill="#ffec58"/>
<rect x="965" y="233.82" width="19.2" height="2.77" fill="#ffe844"/>
<rect x="965" y="230.87" width="19.2" height="2.77" fill="#ffe330"/>
<rect x="965" y="227.92" width="19.2" height="2.77" fill="#ffdc29"/>
<rect x="965" y="224.97" width="19.2" height="2.77" fill="#ffd622"/>
<rect x="965" y="222.02" width="19.2" height="2.77" fill="#ffcf1b"/>
<rect x="965" y="219.08" width="19.2" height="2.77" fill="#ffc814"/>
<rect x="965" y="216.13" width="19.2" height="2.77" fill="#ffc00f"/>
<rect x="965" y="213.18" width="19.2" height="2.77" fill="#ffb90a"/>
<rect x="965" y="210.23" width="19.2" height="2.77" fill="#ffb205"/>
<rect x="965" y="207.28" width="19.2" height="2.77" fill="#ffaa00"/>
<rect x="965" y="204.34" width="19.2" height="2.77" fill="#ffa200"/>
<rect x="965" y="201.39" width="19.2" height="2.77" fill="#ff9b00"/>
<rect x="965" y="198.44" width="19.2" height="2.77" fill="#ff9400"/>
<rect x="965" y="195.49" width="19.2" height="2.77" fill="#ff8c00"/>
<rect x="965" y="192.54" width="19.2" height="2.77" fill="#ff8400"/>
<rect x="965" y="189.60" width="19.2" height="2.77" fill="#ff7c00"/>
<rect x="965" y="186.65" width="19.2" height="2.77" fill="#ff7400"/>
<rect x="965" y="183.70" width="19.2" height="2.77" fill="#ff6c00"/>
<rect x="965" y="180.75" width="19.2" height="2.77" fill="#ff6000"/>
<rect x="965" y="177.80" width="19.2" height="2.77" fill="#ff5300"/>
<rect x="965" y="174.86" width="19.2" height="2.77" fill="#ff4600"/>
<rect x="965" y="171.91" width="19.2" height="2.77" fill="#ff3a00"/>
<rect x="965" y="168.96" width="19.2" height="2.77" fill="#ff2c00"/>
<rect x="965" y="166.01" width="19.2" height="2.77" fill="#ff1d00"/>
<rect x="965" y="163.06" width="19.2" height="2.77" fill="#ff0e00"/>
<rect x="965" y="160.12" width="19.2" height="2.77" fill="#ff0000"/>
<rect x="965" y="157.17" width="19.2" height="2.77" fill="#f70000"/>
<rect x="965" y="154.22" width="19.2" height="2.77" fill="#ef0000"/>
<rect x="965" y="151.27" width="19.2" height="2.77" fill="#e80000"/>
<rect x="965" y="148.33" width="19.2" height="2.77" fill="#e00000"/>
<rect x="965" y="145.38" width="19.2" height="2.77" fill="#d80000"/>
<rect x="965" y="142.43" width="19.2" height="2.77" fill="#d10000"/>
<rect x="965" y="139.48" width="19.2" height="2.77" fill="#c90000"/>
<rect x="965" y="136.53" width="19.2" height="2.77" fill="#c40202"/>
<rect x="965" y="133.59" width="19.2" height="2.77" fill="#c80d0d"/>
<rect x="965" y="130.64" width="19.2" height="2.77" fill="#cd1818"/>
<rect x="965" y="127.69" width="19.2" height="2.77" fill="#d52b2b"/>
<rect x="965" y="124.74" width="19.2" height="2.77" fill="#de3e3e"/>
<rect x="965" y="121.79" width="19.2" height="2.77" fill="#e55454"/>
<rect x="965" y="118.85" width="19.2" height="2.77" fill="#eb6c6c"/>
<rect x="965" y="115.90" width="19.2" height="2.77" fill="#f38787"/>
<rect x="965" y="112.95" width="19.2" height="2.77" fill="#fda8a8"/>
</g>
<text x="1003" y="390" font-size="16.2">-56</text>
<text x="1003" y="369.3" font-size="16.2">-49</text>
<text x="1003" y="348.7" font-size="16.2">-42</text>
<text x="1003" y="328.1" font-size="16.2">-35</text>
<text x="1003" y="307.4" font-size="16.2">-28</text>
<text x="1003" y="286.8" font-size="16.2">-21</text>
<text x="1003" y="266.1" font-size="16.2">-14</text>
<text x="1003" y="245.5" font-size="16.2">-7</text>
<text x="1003" y="224.9" font-size="16.2">0</text>
<text x="1003" y="204.2" font-size="16.2">7</text>
<text x="1003" y="183.6" font-size="16.2">14</text>
<text x="1003" y="163" font-size="16.2">21</text>
<text x="1003" y="142.3" font-size="16.2">28</text>
<text x="1003" y="121.7" font-size="16.2">35</text>
<path d="M153.5 546.2H870.5M153.5 529H870.5M153.5 511.9H870.5M153.5 494.8H870.5M153.5 477.6H870.5" fill="none" stroke="#383838" stroke-width="0.85" stroke-dasharray="3.5 6.05"/>
<path d="M204.7 460.5V563.3M255.9 460.5V563.3M307.1 460.5V563.3M358.3 460.5V563.3M409.5 460.5V563.3M460.8 460.5V563.3M512 460.5V563.3M563.2 460.5V563.3M614.4 460.5V563.3M665.6 460.5V563.3M716.9 460.5V563.3M768.1 460.5V563.3M819.3 460.5V563.3" fill="none" stroke="#383838" stroke-width="0.85" stroke-dasharray="3.4 6.15" stroke-dashoffset="-4.7"/>
<polyline points="204.7,556.1 255.9,532.5 307.1,517.6 358.3,519.1 409.5,506.1 460.8,490.5 512,471.1 563.2,481.1 614.4,480.2 665.6,478.1 716.9,485.2 768.1,509.3 819.3,512.6" fill="none" stroke="#1a1aff" stroke-width="1.15"/>
<path d="M153.5 563.3h-13.8M870.5 563.3h13.8M153.5 546.2h-13.8M870.5 546.2h13.8M153.5 529h-13.8M870.5 529h13.8M153.5 511.9h-13.8M870.5 511.9h13.8M153.5 494.8h-13.8M870.5 494.8h13.8M153.5 477.6h-13.8M870.5 477.6h13.8M153.5 460.5h-13.8M870.5 460.5h13.8" fill="none" stroke="#222" stroke-width="1.3"/>
<path d="M153.5 559.9h-6.8M870.5 559.9h6.8M153.5 556.4h-6.8M870.5 556.4h6.8M153.5 553h-6.8M870.5 553h6.8M153.5 549.6h-6.8M870.5 549.6h6.8M153.5 542.7h-6.8M870.5 542.7h6.8M153.5 539.3h-6.8M870.5 539.3h6.8M153.5 535.9h-6.8M870.5 535.9h6.8M153.5 532.5h-6.8M870.5 532.5h6.8M153.5 525.6h-6.8M870.5 525.6h6.8M153.5 522.2h-6.8M870.5 522.2h6.8M153.5 518.8h-6.8M870.5 518.8h6.8M153.5 515.3h-6.8M870.5 515.3h6.8M153.5 508.5h-6.8M870.5 508.5h6.8M153.5 505h-6.8M870.5 505h6.8M153.5 501.6h-6.8M870.5 501.6h6.8M153.5 498.2h-6.8M870.5 498.2h6.8M153.5 491.3h-6.8M870.5 491.3h6.8M153.5 487.9h-6.8M870.5 487.9h6.8M153.5 484.5h-6.8M870.5 484.5h6.8M153.5 481.1h-6.8M870.5 481.1h6.8M153.5 474.2h-6.8M870.5 474.2h6.8M153.5 470.8h-6.8M870.5 470.8h6.8M153.5 467.4h-6.8M870.5 467.4h6.8M153.5 463.9h-6.8M870.5 463.9h6.8" fill="none" stroke="#4a4a4a" stroke-width="0.85"/>
<path d="M204.7 563.3v13.7M255.9 563.3v13.7M307.1 563.3v13.7M358.3 563.3v13.7M409.5 563.3v13.7M460.8 563.3v13.7M512 563.3v13.7M563.2 563.3v13.7M614.4 563.3v13.7M665.6 563.3v13.7M716.9 563.3v13.7M768.1 563.3v13.7M819.3 563.3v13.7" fill="none" stroke="#222" stroke-width="1.25"/>
<rect x="153.5" y="460.5" width="717" height="102.8" fill="none" stroke="#080808" stroke-width="1.1"/>
<text x="134.2" y="566.4" font-size="8.75" text-anchor="end" fill="#222">1010.0</text>
<text x="134.2" y="549.3" font-size="8.75" text-anchor="end" fill="#222">1011.0</text>
<text x="134.2" y="532.2" font-size="8.75" text-anchor="end" fill="#222">1012.0</text>
<text x="134.2" y="515" font-size="8.75" text-anchor="end" fill="#222">1013.0</text>
<text x="134.2" y="497.9" font-size="8.75" text-anchor="end" fill="#222">1014.0</text>
<text x="134.2" y="480.8" font-size="8.75" text-anchor="end" fill="#222">1015.0</text>
<text x="134.2" y="463.6" font-size="8.75" text-anchor="end" fill="#222">1016.0</text>
<text transform="translate(208.6 589.4) rotate(-45)" font-size="12.4" text-anchor="middle" y="3.7">01_12</text>
<text transform="translate(259.8 589.4) rotate(-45)" font-size="12.4" text-anchor="middle" y="3.7">01_15</text>
<text transform="translate(311 589.4) rotate(-45)" font-size="12.4" text-anchor="middle" y="3.7">01_18</text>
<text transform="translate(362.2 589.4) rotate(-45)" font-size="12.4" text-anchor="middle" y="3.7">01_21</text>
<text transform="translate(413.4 589.4) rotate(-45)" font-size="12.4" text-anchor="middle" y="3.7">02_00</text>
<text transform="translate(464.6 589.4) rotate(-45)" font-size="12.4" text-anchor="middle" y="3.7">02_03</text>
<text transform="translate(515.9 589.4) rotate(-45)" font-size="12.4" text-anchor="middle" y="3.7">02_06</text>
<text transform="translate(567.1 589.4) rotate(-45)" font-size="12.4" text-anchor="middle" y="3.7">02_09</text>
<text transform="translate(618.3 589.4) rotate(-45)" font-size="12.4" text-anchor="middle" y="3.7">02_12</text>
<text transform="translate(669.5 589.4) rotate(-45)" font-size="12.4" text-anchor="middle" y="3.7">02_15</text>
<text transform="translate(720.8 589.4) rotate(-45)" font-size="12.4" text-anchor="middle" y="3.7">02_18</text>
<text transform="translate(772 589.4) rotate(-45)" font-size="12.4" text-anchor="middle" y="3.7">02_21</text>
<text transform="translate(823.2 589.4) rotate(-45)" font-size="12.4" text-anchor="middle" y="3.7">03_00</text>
<text transform="translate(91.5 511.9) rotate(-90)" font-size="23.6" text-anchor="middle">PMSL</text>
<path d="M153.5 696.2H870.5M153.5 675.8H870.5M153.5 655.3H870.5M153.5 634.9H870.5" fill="none" stroke="#383838" stroke-width="0.85" stroke-dasharray="3.5 6.05"/>
<path d="M204.7 614.5V716.6M255.9 614.5V716.6M307.1 614.5V716.6M358.3 614.5V716.6M409.5 614.5V716.6M460.8 614.5V716.6M512 614.5V716.6M563.2 614.5V716.6M614.4 614.5V716.6M665.6 614.5V716.6M716.9 614.5V716.6M768.1 614.5V716.6M819.3 614.5V716.6" fill="none" stroke="#383838" stroke-width="0.85" stroke-dasharray="3.4 6.15" stroke-dashoffset="-4.7"/>
<polyline points="204.7,619.4 255.9,630.4 307.1,636.1 358.3,627.6 409.5,659.6 460.8,683.9 512,670.7 563.2,654.7 614.4,648.2 665.6,630.8 716.9,627.6 768.1,636.6 819.3,697.4" fill="none" stroke="#ff1a1a" stroke-width="1.15"/>
<path d="M153.5 716.6h-13.8M870.5 716.6h13.8M153.5 696.2h-13.8M870.5 696.2h13.8M153.5 675.8h-13.8M870.5 675.8h13.8M153.5 655.3h-13.8M870.5 655.3h13.8M153.5 634.9h-13.8M870.5 634.9h13.8M153.5 614.5h-13.8M870.5 614.5h13.8" fill="none" stroke="#222" stroke-width="1.3"/>
<path d="M153.5 712.5h-6.8M870.5 712.5h6.8M153.5 708.4h-6.8M870.5 708.4h6.8M153.5 704.3h-6.8M870.5 704.3h6.8M153.5 700.3h-6.8M870.5 700.3h6.8M153.5 692.1h-6.8M870.5 692.1h6.8M153.5 688h-6.8M870.5 688h6.8M153.5 683.9h-6.8M870.5 683.9h6.8M153.5 679.8h-6.8M870.5 679.8h6.8M153.5 671.7h-6.8M870.5 671.7h6.8M153.5 667.6h-6.8M870.5 667.6h6.8M153.5 663.5h-6.8M870.5 663.5h6.8M153.5 659.4h-6.8M870.5 659.4h6.8M153.5 651.3h-6.8M870.5 651.3h6.8M153.5 647.2h-6.8M870.5 647.2h6.8M153.5 643.1h-6.8M870.5 643.1h6.8M153.5 639h-6.8M870.5 639h6.8M153.5 630.8h-6.8M870.5 630.8h6.8M153.5 626.8h-6.8M870.5 626.8h6.8M153.5 622.7h-6.8M870.5 622.7h6.8M153.5 618.6h-6.8M870.5 618.6h6.8" fill="none" stroke="#4a4a4a" stroke-width="0.85"/>
<path d="M204.7 716.6v13.7M255.9 716.6v13.7M307.1 716.6v13.7M358.3 716.6v13.7M409.5 716.6v13.7M460.8 716.6v13.7M512 716.6v13.7M563.2 716.6v13.7M614.4 716.6v13.7M665.6 716.6v13.7M716.9 716.6v13.7M768.1 716.6v13.7M819.3 716.6v13.7" fill="none" stroke="#222" stroke-width="1.25"/>
<rect x="153.5" y="614.5" width="717" height="102.1" fill="none" stroke="#080808" stroke-width="1.1"/>
<text x="134.2" y="719.8" font-size="8.9" text-anchor="end" fill="#222">3.0</text>
<text x="134.2" y="699.4" font-size="8.9" text-anchor="end" fill="#222">4.0</text>
<text x="134.2" y="679" font-size="8.9" text-anchor="end" fill="#222">5.0</text>
<text x="134.2" y="658.5" font-size="8.9" text-anchor="end" fill="#222">6.0</text>
<text x="134.2" y="638.1" font-size="8.9" text-anchor="end" fill="#222">7.0</text>
<text x="134.2" y="617.7" font-size="8.9" text-anchor="end" fill="#222">8.0</text>
<text transform="translate(208.6 742.7) rotate(-45)" font-size="12.4" text-anchor="middle" y="3.7">01_12</text>
<text transform="translate(259.8 742.7) rotate(-45)" font-size="12.4" text-anchor="middle" y="3.7">01_15</text>
<text transform="translate(311 742.7) rotate(-45)" font-size="12.4" text-anchor="middle" y="3.7">01_18</text>
<text transform="translate(362.2 742.7) rotate(-45)" font-size="12.4" text-anchor="middle" y="3.7">01_21</text>
<text transform="translate(413.4 742.7) rotate(-45)" font-size="12.4" text-anchor="middle" y="3.7">02_00</text>
<text transform="translate(464.6 742.7) rotate(-45)" font-size="12.4" text-anchor="middle" y="3.7">02_03</text>
<text transform="translate(515.9 742.7) rotate(-45)" font-size="12.4" text-anchor="middle" y="3.7">02_06</text>
<text transform="translate(567.1 742.7) rotate(-45)" font-size="12.4" text-anchor="middle" y="3.7">02_09</text>
<text transform="translate(618.3 742.7) rotate(-45)" font-size="12.4" text-anchor="middle" y="3.7">02_12</text>
<text transform="translate(669.5 742.7) rotate(-45)" font-size="12.4" text-anchor="middle" y="3.7">02_15</text>
<text transform="translate(720.8 742.7) rotate(-45)" font-size="12.4" text-anchor="middle" y="3.7">02_18</text>
<text transform="translate(772 742.7) rotate(-45)" font-size="12.4" text-anchor="middle" y="3.7">02_21</text>
<text transform="translate(823.2 742.7) rotate(-45)" font-size="12.4" text-anchor="middle" y="3.7">03_00</text>
<text transform="translate(105 665.5) rotate(-90)" font-size="23.6" text-anchor="middle">TEMP at 2 M</text>
<rect x="374.4" y="919.1" width="53.5" height="33.3" fill="#00fd00"/>
<rect x="429.8" y="841.4" width="53.5" height="111" fill="#00fd00"/>
<rect x="485.2" y="885.8" width="53.5" height="66.6" fill="#00fd00"/>
<rect x="540.5" y="941.3" width="53.5" height="11.1" fill="#00fd00"/>
<rect x="817.4" y="941.3" width="53.1" height="11.1" fill="#00fd00"/>
<path d="M153.5 930.2H870.5M153.5 908H870.5M153.5 885.8H870.5M153.5 863.6H870.5M153.5 841.4H870.5" fill="none" stroke="#383838" stroke-width="0.85" stroke-dasharray="3.5 6.05"/>
<path d="M179.7 819.2V952.4M235.1 819.2V952.4M290.4 819.2V952.4M345.8 819.2V952.4M401.2 819.2V952.4M456.5 819.2V952.4M511.9 819.2V952.4M567.3 819.2V952.4M622.7 819.2V952.4M678 819.2V952.4M733.4 819.2V952.4M788.8 819.2V952.4M844.1 819.2V952.4" fill="none" stroke="#383838" stroke-width="0.85" stroke-dasharray="3.4 6.15" stroke-dashoffset="-4.7"/>
<path d="M153.5 952.4h-13.8M870.5 952.4h13.8M153.5 930.2h-13.8M870.5 930.2h13.8M153.5 908h-13.8M870.5 908h13.8M153.5 885.8h-13.8M870.5 885.8h13.8M153.5 863.6h-13.8M870.5 863.6h13.8M153.5 841.4h-13.8M870.5 841.4h13.8M153.5 819.2h-13.8M870.5 819.2h13.8" fill="none" stroke="#222" stroke-width="1.3"/>
<path d="M153.5 946.9h-6.8M870.5 946.9h6.8M153.5 941.3h-6.8M870.5 941.3h6.8M153.5 935.8h-6.8M870.5 935.8h6.8M153.5 924.7h-6.8M870.5 924.7h6.8M153.5 919.1h-6.8M870.5 919.1h6.8M153.5 913.6h-6.8M870.5 913.6h6.8M153.5 902.5h-6.8M870.5 902.5h6.8M153.5 896.9h-6.8M870.5 896.9h6.8M153.5 891.4h-6.8M870.5 891.4h6.8M153.5 880.2h-6.8M870.5 880.2h6.8M153.5 874.7h-6.8M870.5 874.7h6.8M153.5 869.1h-6.8M870.5 869.1h6.8M153.5 858.1h-6.8M870.5 858.1h6.8M153.5 852.5h-6.8M870.5 852.5h6.8M153.5 847h-6.8M870.5 847h6.8M153.5 835.9h-6.8M870.5 835.9h6.8M153.5 830.3h-6.8M870.5 830.3h6.8M153.5 824.8h-6.8M870.5 824.8h6.8" fill="none" stroke="#4a4a4a" stroke-width="0.85"/>
<path d="M179.7 952.4v13.7M235.1 952.4v13.7M290.4 952.4v13.7M345.8 952.4v13.7M401.2 952.4v13.7M456.5 952.4v13.7M511.9 952.4v13.7M567.3 952.4v13.7M622.7 952.4v13.7M678 952.4v13.7M733.4 952.4v13.7M788.8 952.4v13.7M844.1 952.4v13.7" fill="none" stroke="#222" stroke-width="1.25"/>
<rect x="153.5" y="819.2" width="717" height="133.2" fill="none" stroke="#080808" stroke-width="1.1"/>
<text x="133.3" y="955.9" font-size="9.6" text-anchor="end" fill="#222">0.00</text>
<text x="133.3" y="933.7" font-size="9.6" text-anchor="end" fill="#222">0.02</text>
<text x="133.3" y="911.5" font-size="9.6" text-anchor="end" fill="#222">0.04</text>
<text x="133.3" y="889.3" font-size="9.6" text-anchor="end" fill="#222">0.06</text>
<text x="133.3" y="867.1" font-size="9.6" text-anchor="end" fill="#222">0.08</text>
<text x="133.3" y="844.9" font-size="9.6" text-anchor="end" fill="#222">0.10</text>
<text x="133.3" y="822.7" font-size="9.6" text-anchor="end" fill="#222">0.12</text>
<text transform="translate(183.6 978.5) rotate(-45)" font-size="12.4" text-anchor="middle" y="3.7">01_12</text>
<text transform="translate(239 978.5) rotate(-45)" font-size="12.4" text-anchor="middle" y="3.7">01_15</text>
<text transform="translate(294.3 978.5) rotate(-45)" font-size="12.4" text-anchor="middle" y="3.7">01_18</text>
<text transform="translate(349.7 978.5) rotate(-45)" font-size="12.4" text-anchor="middle" y="3.7">01_21</text>
<text transform="translate(405.1 978.5) rotate(-45)" font-size="12.4" text-anchor="middle" y="3.7">02_00</text>
<text transform="translate(460.4 978.5) rotate(-45)" font-size="12.4" text-anchor="middle" y="3.7">02_03</text>
<text transform="translate(515.8 978.5) rotate(-45)" font-size="12.4" text-anchor="middle" y="3.7">02_06</text>
<text transform="translate(571.2 978.5) rotate(-45)" font-size="12.4" text-anchor="middle" y="3.7">02_09</text>
<text transform="translate(626.6 978.5) rotate(-45)" font-size="12.4" text-anchor="middle" y="3.7">02_12</text>
<text transform="translate(681.9 978.5) rotate(-45)" font-size="12.4" text-anchor="middle" y="3.7">02_15</text>
<text transform="translate(737.3 978.5) rotate(-45)" font-size="12.4" text-anchor="middle" y="3.7">02_18</text>
<text transform="translate(792.7 978.5) rotate(-45)" font-size="12.4" text-anchor="middle" y="3.7">02_21</text>
<text transform="translate(848 978.5) rotate(-45)" font-size="12.4" text-anchor="middle" y="3.7">03_00</text>
<text transform="translate(96 885.8) rotate(-90)" font-size="24.8" text-anchor="middle">PRECIP, mm</text>
</svg></body></html>
